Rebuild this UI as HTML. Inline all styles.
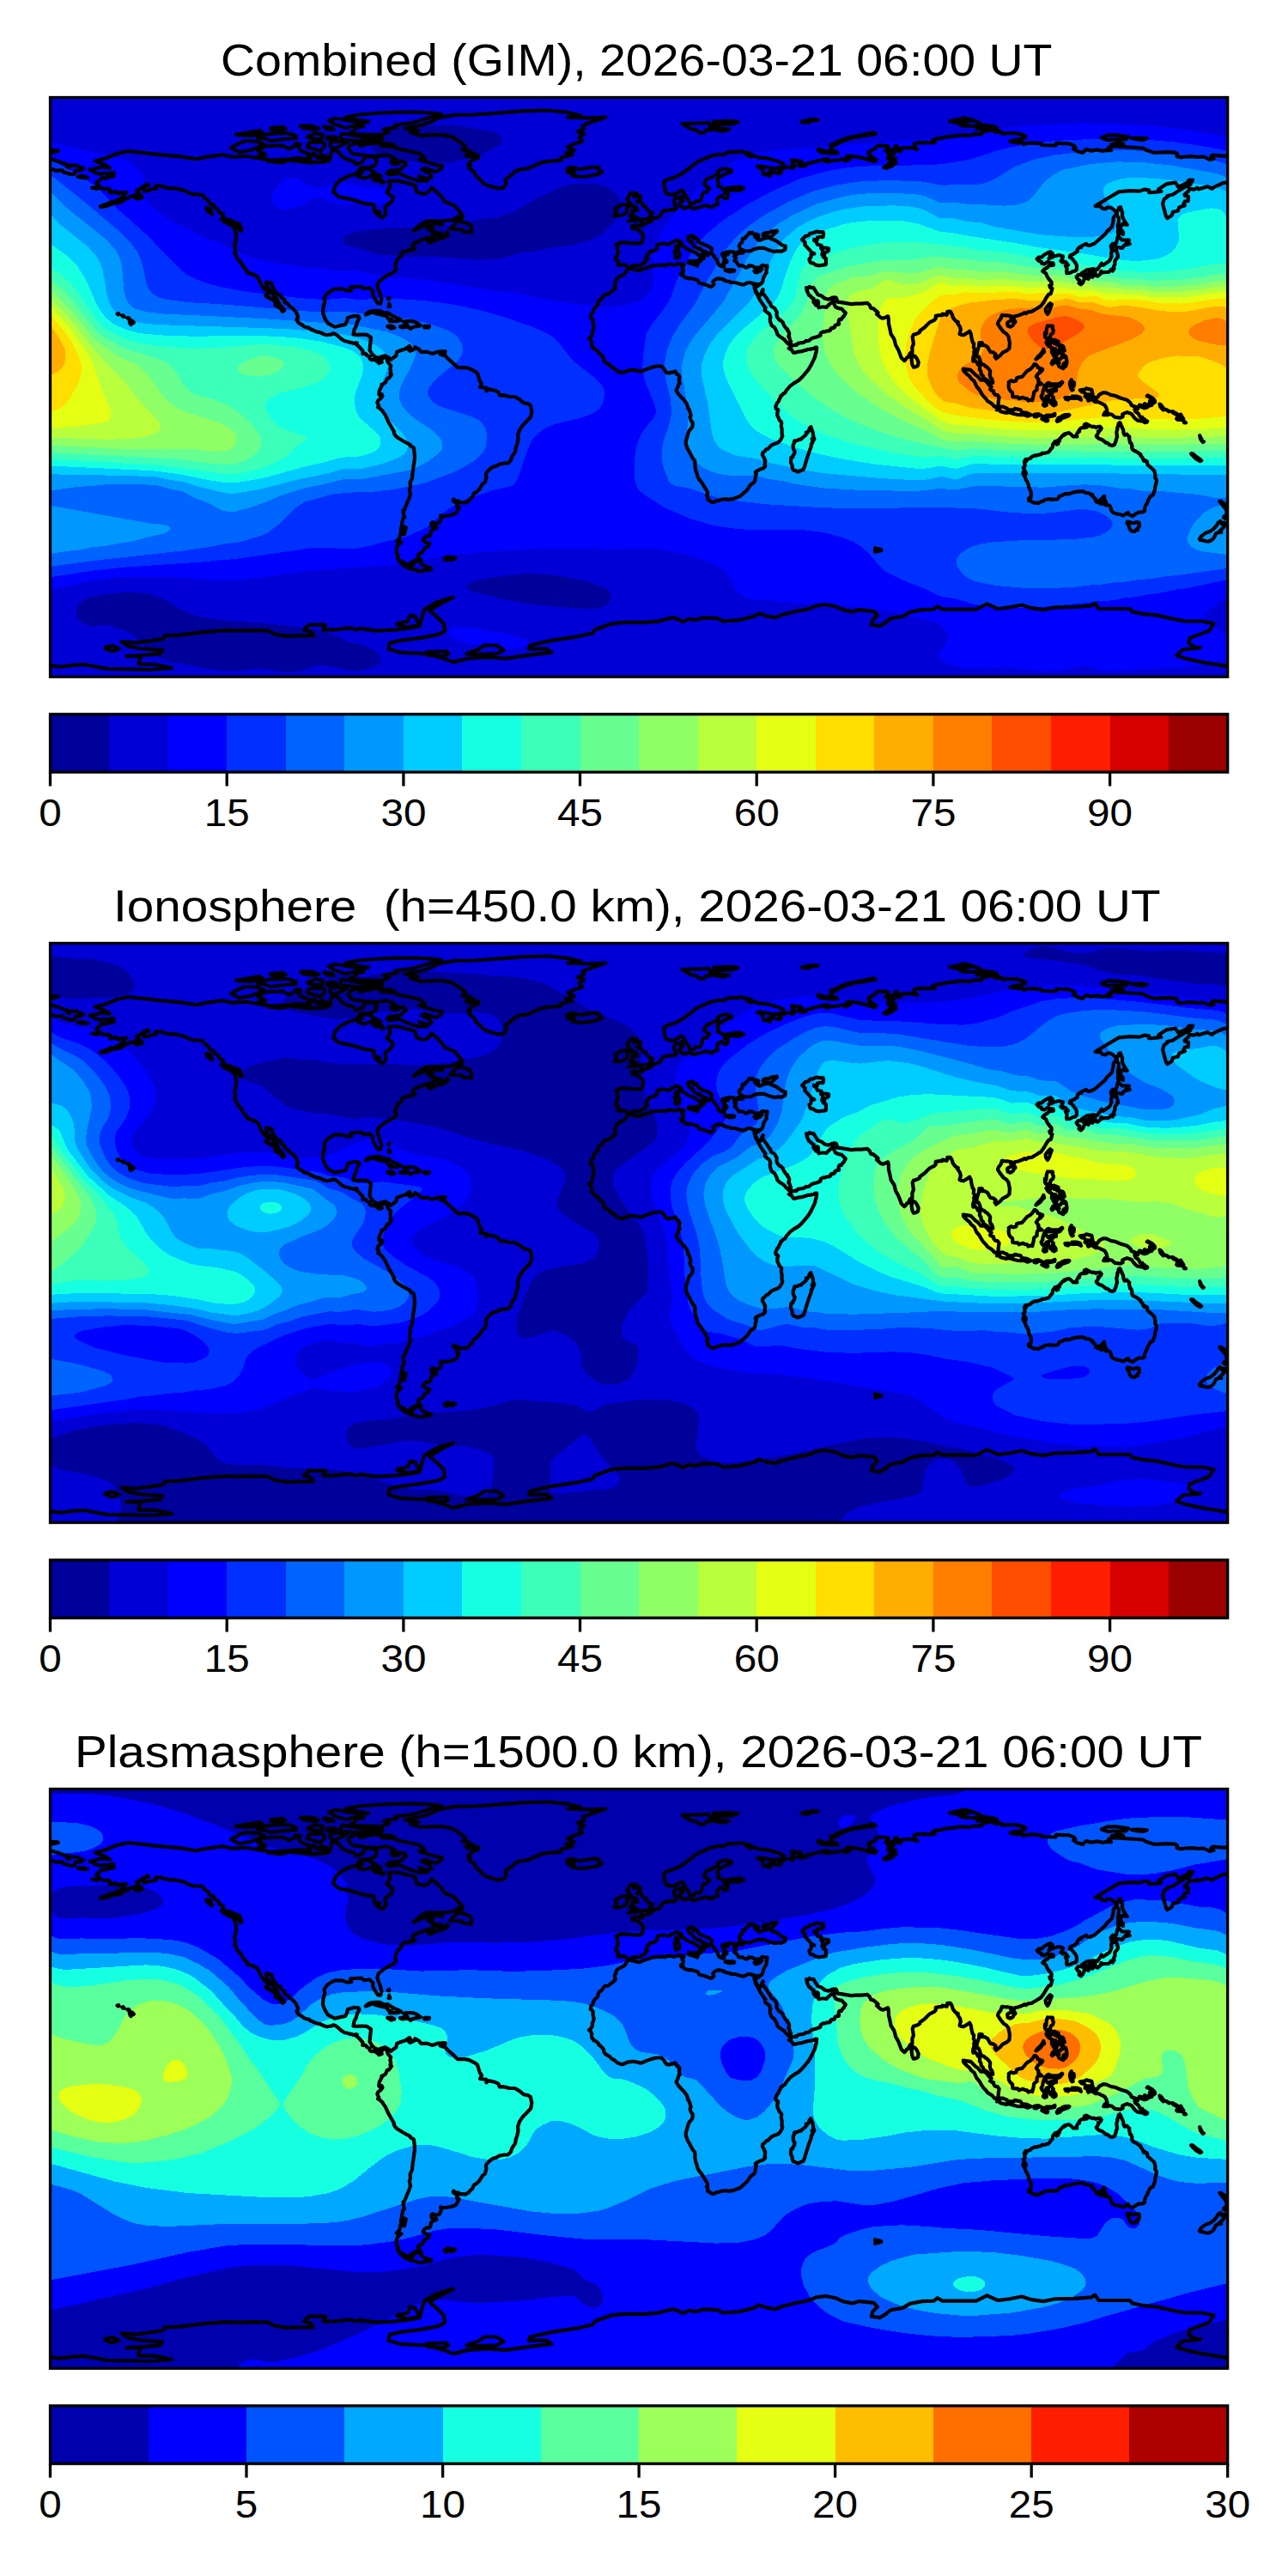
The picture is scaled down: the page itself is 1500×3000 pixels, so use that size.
<!DOCTYPE html><html><head><meta charset="utf-8"><title>TEC maps</title><style>html,body{margin:0;padding:0;background:#fff}svg{display:block}text{font-family:"Liberation Sans",sans-serif;fill:#000}</style></head><body>
<svg width="1500" height="3000" viewBox="0 0 1500 3000">
<defs><path id="coast" d="M46.3 84.4 59.9 81 69.5 82.1 63.7 78.3 52.1 74 65.7 70.5 77.2 65.5 90.8 62.5 108.1 64.4 127.5 66.7 150.6 68.6 169.9 71.7 181.5 69.4 200.9 66.7 212.4 69.4 227.9 68.2 251.1 72.1 254.9 74.4 270.4 75.6 278.1 73.2 289.7 74.4 301.3 75.9 316.7 75.2 324.4 74 326.4 68.2 328.3 60.5 336 63.6 339.9 69 345.7 72.1 353.4 74 355.3 77.9 363.1 75.9 366.9 69.4 376.6 69 380.5 73.2 378.5 79 370.8 81.7 361.1 82.1 357.3 88.7 347.6 91.4 338 96.4 332.2 102.2 329.5 109.9 336 115.7 345.7 117.6 355.3 119.9 366.9 123.7 376.6 124.5 377.8 133 382.4 137.6 387 139.9 390.9 135.7 390.1 127.2 397.8 121.4 399.4 116.4 392 110.6 395.9 104.1 394 97.1 405.6 97.1 417.1 100.2 424.9 102.2 426.8 109.9 434.5 112.6 440.3 110.3 444.2 104.9 450 109.9 455.8 115.7 459.6 121.4 471.2 126.1 475.1 131.1 479.7 136.1 475.1 139.2 467.4 143 455.8 143.8 438.4 143.8 430.7 148.4 422.9 155 428.7 152.3 438.4 148 446.1 148.4 445 152.3 439.2 152.3 444.2 155.4 446.1 159.2 453.8 160.8 459.6 161.1 462.3 157.3 463.5 160 458.5 163.1 450 165.4 442.3 169.2 439.6 166.5 446.1 162.7 439.2 163.5 435.3 165 428.7 167.7 423.7 169.6 421.8 173.5 424.9 176.2 419.1 177.7 411.4 179.6 409.4 181.6 408.3 185 404.8 187.7 402.5 192.8 401.7 195.1 402.9 200.5 399.8 203.5 394 206.6 389.3 209.3 382.4 214.7 380.8 219.7 383.9 228.2 385.9 235.2 384.7 240.2 381.6 239.8 379.3 236.3 375.8 230.5 375.8 225.5 371.6 221.7 365.8 222.8 361.9 220.1 355.3 220.5 349.6 220.9 350.7 224.7 345.7 225.1 340.7 223.2 332.9 222.8 329.1 224 322.5 228.2 319 233.2 319.8 237.9 317.9 244.8 317.5 251 319.8 257.1 323.3 262.9 328.3 265.6 331.4 267.2 338 265.6 343.8 264.5 345.7 260.2 346.5 256.4 353.4 254.4 359.2 254.8 360 257.1 357.3 262.1 356.1 266.8 354.2 269.9 353 276 357.3 276.4 363.1 276 368.9 276.4 373.5 279.5 372.7 287.2 372 294.1 374.7 298.8 377.8 301.8 381.6 303.4 386.2 301.8 390.1 300.7 394.7 303.4 396.7 305.3 398.6 303.8 402.9 300.7 403.6 296.4 408.3 294.5 413.3 293 418.3 289.5 419.9 291.8 417.5 294.1 419.1 295.3 424.1 293 424.9 290.7 429.5 293.4 431.8 296.4 439.6 296.4 444.6 298.4 451.9 296.1 456.2 296.1 454.2 299.1 460.4 301.1 463.1 304.2 469.3 309.6 474.3 314.6 482.8 314.6 487.4 315.3 494.4 318.8 497.5 321.1 500.2 330 502.5 333.5 500.6 337.3 507.5 338.1 507.9 341.9 510.6 339.6 517.6 341.2 521.8 343.1 523.4 346.9 527.6 346.6 535 348.5 541.1 348.5 546.5 351.6 551.6 355.8 556.2 356.6 559.3 358.5 560.8 365.5 559.7 372 554.3 377.8 550.4 381.6 546.5 387.4 544.6 393.2 545 397.8 543.8 403.6 542.3 407.9 541.5 412.9 537.7 418.3 536.5 422.5 533 426 528.8 426 523 427.1 519.9 429.1 515.6 430.2 511.4 433.3 507.9 437.2 507.5 439.9 507.9 442.2 506.4 448 503.7 449.9 499.4 456.8 495.9 459.9 493.2 461.4 491.7 465.3 489 467.6 487.4 469.9 483.2 472.2 480.1 471.5 478.2 471.9 474.7 469.9 472 470.3 469.7 468 469.3 469.9 474.3 473.4 473.5 476.1 476.2 477.6 472.4 484.6 466.6 486.5 458.9 487.7 454.6 486.9 455.4 489.2 454.6 492.3 453.1 495.4 448.8 496.1 445.3 494.6 443.8 495.8 444.2 499.6 446.9 500.8 448.8 499.2 450 501.5 446.5 502.7 443.4 505 443 508.9 441.9 510.8 438.4 510.8 435.3 513.1 434.1 515.8 438 518.5 441.9 519.3 440.3 522.7 435.7 525.1 433.4 529.7 429.9 531.2 428.4 532.8 429.5 537 432.2 538.9 430.3 538.9 426.8 538.2 421 540.9 417.5 544.7 421 544.7 414.8 543.6 410.6 540.9 405.9 538.9 404.4 536.2 405.6 533.9 403.6 531.6 403.2 525.1 404.8 521.2 409 518.1 403.2 517 406.7 513.9 407.9 507.3 412.5 508.9 414.4 500.8 411.7 499.6 410.6 504.6 408.3 503.8 409.4 498.5 410.6 491.1 412.5 488.8 411.4 485 411 480.7 412.5 480.3 414.8 474.2 417.5 468 419.5 462.2 418.3 456.4 419.5 453.3 419.1 448.7 421.4 443.7 422.2 436.4 423.3 428.3 424.5 419.8 424.1 413.6 423.3 407.9 419.5 405.9 419.1 404.4 411.7 400.5 404.8 396.3 401.7 393.6 400.2 390.5 400.5 389.4 397.5 384.3 393.6 377.4 390.1 369.7 388.6 367.8 387 365.1 384.3 362.4 381.6 360.8 382.8 359.3 380.8 355.4 382 352.7 385.1 350.4 387 347.7 386.2 345.8 384.7 347.7 382.8 345.8 383.2 341.6 384.7 338.5 386.2 335.8 385.9 334.2 388.2 333.5 390.5 331.9 392.4 327.3 394.4 326.9 397.5 322.7 395.9 321.5 396.7 319.2 395.9 315.7 396.7 312.3 394.4 309.6 393.2 308.4 392.4 306.1 393.2 305.3 392.4 304.9 391.7 303.8 389.7 302.6 387.8 303 387 304.2 385.5 305.3 384.7 305.3 384.3 306.1 386.2 308.4 385.1 308.8 382.8 309.6 382 307.2 380.5 307.6 379.7 306.1 375.4 305.3 374.7 305.7 372.7 304.9 372 303.8 372.3 302.2 368.5 300.3 368.1 299.1 366.9 298.4 363.8 298.4 364.2 295.7 363.5 294.5 361.1 291.8 358.4 289.1 356.5 287.6 357.3 286 356.1 285.7 353.4 286.4 350.3 285.3 348.4 285.3 347.2 284.5 343 283.7 339.1 281.4 334.5 277.2 332.2 275.6 329.5 274.9 327.2 276 322.1 276.8 319.4 276 313.2 273.3 310.2 272.9 305.9 271 302.4 269.5 301.7 268.3 299.3 267.9 295.5 266.8 293.9 265.2 289.7 262.9 287.8 260.6 287 258.7 288.1 258.3 287.8 257.1 288.5 256 288.5 254.8 287.4 252.9 287 251.3 285.8 249.4 282.3 245.6 278.5 242.9 276.6 240.2 273.1 238.6 272.7 237.9 273.1 235.5 271.1 234.4 268.8 232.5 268.1 229.8 265.7 229.8 263.4 227.4 261.9 225.5 261.5 224.4 259.6 221.7 258 218.6 258.4 217 255.3 215.5 254.2 215.9 251.8 214.7 251.4 216.3 251.8 218.2 252.2 220.9 253.8 222.4 256.5 225.1 257.2 226.3 257.6 226.3 258.4 227.8 258.8 227.8 259.6 230.1 260.7 231.3 261.9 232.5 264.2 234.4 265.4 238.2 266.5 239.8 267.7 241.7 267.7 243.6 269.6 243.6 271.1 245.6 272.7 247.1 272.7 247.9 270.8 249.4 270.4 249.4 269.2 247.1 266.9 244.8 263.8 242.9 261.9 242.1 262.3 239 261.5 237.1 259.6 235.9 256.9 234 256.5 234.8 255.7 233.6 253 232.8 250.7 230.5 251.1 230.1 252.6 230.5 254.2 229 254.2 227.1 251.4 224.4 249.1 223.2 247.6 220.9 246 218.6 244.5 215.5 243 212 242.2 210.1 239.9 207.8 237.9 207.4 237.5 206.2 235.2 205.9 234.1 205.1 230.2 204.7 229.4 203.9 229 201.6 225.2 197.8 222.1 192.4 222.1 191.6 220.2 190.4 217.5 187 216.7 183.9 214.8 182 215.5 178.9 215.5 175.4 214.4 172.3 215.9 168.8 216.3 165.4 216.7 161.9 215.9 156.5 214.8 153.4 213.6 151.5 214 150.7 219.8 152.3 221.7 155.7 222.9 154.6 222.1 151.5 220.9 148.4 220.2 147.3 212.8 144.6 210.1 143 203.2 141.5 200.9 138 201.2 135.7 196.6 133.8 195.8 130.7 191.2 128 191.2 126.1 188.9 124.5 185.4 123.4 184.2 119.9 179.6 116.8 177.3 113.3 173.8 113 167.6 113 163 111.8 154.9 107.9 151.4 107.2 144.5 105.6 139.4 106 131.7 104.1 127.1 102.5 122.8 103.3 123.6 106 121.3 106.4 117 107.2 113.6 108.3 109.3 109.1 108.5 107.2 110.5 103.3 114.7 102.2 113.6 101 108.5 103.3 105.8 105.6 100.4 108.3 103.1 110.3 99.7 113.3 95.4 114.9 91.5 116 90.4 117.6 84.6 119.5 83.4 121.4 78.8 123 76.1 123 72.6 123.7 68.8 125.3 65.3 126.4 58.7 127.6 58.3 126.8 62.6 125.3 66 124.1 70.3 121.8 74.9 121.4 76.9 119.9 82.3 117.6 83 116.8 86.1 115.3 86.5 112.6 88.8 110.3 84.2 111.4 83 110.6 80.7 112.2 78.4 110.3 77.2 111.4 75.7 109.5 71.8 111 69.5 111 69.1 108.7 69.9 107.6 67.6 106 62.6 106.8 59.1 104.9 56.8 104.1 56.4 101.8 53.7 100.2 55.2 97.9 58.3 96 59.5 94.1 62.6 93.7 65.3 94.1 68.4 92.5 71.5 92.5 74.2 91.4 73.4 89.8 71.5 89.1 74.2 87.5 71.8 87.5 67.6 88.3 66.4 89.4 63.7 88.3 58.3 89.1 52.5 87.9 51 86.4 46 84 46.3 84.4M413.3 35.9 432.6 32 444.2 28.1 451.9 23.9 471.2 20.4 494.4 20 521.4 18.1 548.5 15.8 579.4 15 602.5 17.3 618 21.2 602.5 23.1 629.6 23.9 647 23.1 629.6 28.9 619.9 32.8 621.9 36.6 614.1 39.7 621.9 42.4 616.1 46.3 619.9 50.9 610.3 54 602.5 57.8 610.3 61.7 600.6 64.4 608.3 66.7 594.8 70.2 594.8 73.2 575.5 74.8 565.9 78.3 556.2 82.9 546.5 84 540.8 86.7 538 89.8 529.9 95.6 531.1 100.2 528 105.2 521.4 106 509.8 102.5 505.2 100.6 500.2 95.2 495.9 91.7 493.6 86.7 487.8 82.5 489.4 79.4 486.7 78.3 490.5 73.6 498.3 70.5 499 67.8 485.1 69 484 66.3 494.4 66.3 486.7 61.7 479.7 60.9 484 57.4 479 53.2 473.2 49.3 468.9 46.3 458.5 43.9 450 43.6 430.7 44.3 419.1 40.5 428.7 38.5 413.3 35.9M607.6 81.3 616.8 83.7 625.7 82.1 633.4 81 639.2 81.7 638.9 84.8 642.7 86.7 637.7 89.4 626.5 91.7 618 92.5 607.6 91 610.3 89.1 602.5 87.1 610.3 85.2 601.4 84.4 604.1 81.7 607.6 81.3M386.2 53.2 397.8 56.7 407.5 60.5 419.1 62.8 430.7 65.5 436.5 70.5 429.5 72.5 438.4 75.2 448 78.3 456.5 79.8 455 83.3 448.4 86.7 443.8 84.8 436.5 82.1 432.6 84 441.5 88.3 444.2 92.9 439.2 94.8 429.5 91.7 439.2 97.1 429.1 97.1 421 94.8 416.4 92.9 406.3 88.3 395.1 89.8 392 88.3 394.4 85.6 408.3 83.7 409.8 81.7 414.8 77.9 412.1 74.8 405.6 74 398.2 71.7 400.9 70.9 396.7 68.2 390.5 66.7 381.2 68.6 367.3 67.5 359.2 66.3 352.6 65.9 349.6 62.8 346.9 59 349.9 55.5 353.8 54 363.8 52.8 360.8 56.7 367.3 54.7 377.4 53.2 386.2 53.2M241.4 61.7 251.1 56.7 270.4 55.9 278.1 59.8 287.8 54.7 291.6 61.7 305.1 67.5 299.3 69.4 303.2 72.5 289.7 70.5 282 71.3 274.2 72.1 256.9 73.2 247.2 70.5 242.6 67.5 251.1 66.3 241.4 61.7M210.5 58.6 220.2 53.2 227.9 50.5 241.4 51.3 249.1 54.4 233.7 61.3 220.2 63.6 210.5 58.6M347.6 42.4 366.9 43.2 386.2 43.6 394.7 40.1 388.2 37 403.6 34.7 401.7 32 421 29.7 436.5 25.1 455.8 19.7 444.2 18.1 424.9 17 397.8 17.3 378.5 18.5 359.2 20 343.8 23.1 359.2 26.6 370.8 28.1 359.2 30.5 365 33.5 355.3 35.5 355.3 37.8 347.6 42.4M332.2 24.3 347.6 27 355.3 28.1 359.2 32 343.8 35.5 332.2 31.6 324.4 27 332.2 24.3M339.9 42 363.1 45.9 386.2 46.6 387 48.6 378.5 50.1 355.3 50.5 339.9 49 338 45.1 339.9 42M243.3 43.6 262.6 42 276.2 41.6 285.8 44.3 286.6 47.4 272.3 48.6 256.1 50.5 251.1 48.2 241.4 47 243.3 43.6M309 41.6 317.9 43.2 316.7 48.2 305.9 48.2 299.3 45.9 309 41.6M301.3 52.8 312.9 52 319.4 53.2 319.8 56.7 314.8 62.5 309 60.5 299.3 57.8 301.3 52.8M326.4 51.3 338.7 51.3 345.7 52.8 338 56.3 331 59.8 326 56.7 326.4 51.3M316 66.7 322.5 69 326 71.7 317.9 71.3 309.8 69.8 316 66.7M216.3 43.2 227.9 41.2 243.3 38.5 247.2 40.9 235.6 44.3 220.9 43.9 216.3 43.2M359.2 85.2 366.9 82.9 372 83.7 380.5 89.1 385.1 91.7 374.7 90.2 370.8 92.5 365 94.1 358.4 92.1 363.1 87.5 359.2 85.2M465.8 153 471.2 147.6 475.9 139.6 480.5 138.8 476.2 144.6 480.9 144.9 488.6 147.6 490.5 151.5 490.5 157.3 486.7 156.5 481.7 156.5 479 153.8 465.8 153M199.3 141.5 208.6 143 216.3 147.6 218.2 150.7 210.5 148.8 202.8 144.9 199.3 141.5M181.5 128.8 186.6 129.1 188.5 136.1 183.5 132.6 181.5 128.8M97.7 116 106.2 114.1 107.4 116.4 101.2 118.3 97.7 116M32.1 92.1 38.6 91.7 43.6 93.3 36.7 93.3 32.1 92.1M48.7 105.2 54.1 104.9 55.2 106.4 48.7 105.2M367.3 252.9 370.8 249.8 375.4 248.6 380.8 248.3 383.9 248.3 389 251 392.8 250.6 397.8 253.7 400.9 255.6 403.2 256.4 408.7 259.1 403.2 260.6 395.1 260.6 397.5 258.7 393.6 257.5 391.3 254 389 254 379.3 251.7 375.4 249.8 371.2 251.7 367.3 252.9M407.5 266.8 411.7 266 416 265.2 414.1 263.7 411.7 261.4 414.1 260.6 418.7 260.6 421.8 260.6 425.3 261.8 428 262.9 429.9 264.5 431.4 265.6 428 266.4 422.9 267.2 419.5 269.5 418.3 267.9 415.6 267.2 409.8 267.9 407.5 266.8M392.8 266.4 397.1 266 400.9 267.9 397.1 269.1 392.8 266.4M435.7 266.4 441.5 266.4 440.7 267.9 435.7 267.9 435.7 266.4M456.2 295.7 460 295.7 459.6 298.4 456.2 298.4 456.2 295.7M393.2 234.4 394.7 234.8 394.7 233.2M394 243.6 395.9 243.6 394.7 240.2M458.9 537 463.5 534.7 467 535.8 472 535.8 469.3 538.5 464.3 537.8 460.8 538.9 458.9 537M430.3 540.1 431.8 542 433.8 544.7 438.8 547 443.8 548.2 442.3 550.1 436.8 550.1 432.2 551.7 428 551.3 424.9 549.7 421 549.3 416 547.4 412.1 545.1 407.1 540.9 410.2 541.6 415.6 544.3 420.6 545.9 422.6 543.9 423.7 541.2 427.6 539.7 430.3 540.1M672.5 199.3 675.2 199.3 681.3 200.8 686.8 201.6 690.6 199.7 697.2 197.4 701 196.2 707.6 195.4 713.8 195.1 715.7 195.8 719.6 194.3 723.4 194.3 725 195.1 727.7 195.1 731.9 193.5 734.6 193.9 734.6 195.8 737.7 194.3 738.1 195.1 736.2 197 736.2 198.9 737.4 199.7 737 203.2 734.3 205.1 735 207 737.4 207 738.1 208.9 739.7 209.7 744.3 210.9 745.8 210.5 748.9 211.3 754 212.8 755.9 216.3 759.4 217 764.8 218.6 769 220.5 771 219.7 772.9 217.8 771.7 214.7 772.9 213.2 776 211.3 778.3 210.9 783.7 211.6 784.9 213.2 786.4 213.2 787.9 214 791.4 214.3 792.6 215.5 797.6 215.5 801.5 216.7 805.3 217.8 806.9 218.2 810 217 811.5 215.9 815 215.5 817.7 216.3 818.8 217.8 819.6 216.7 822.7 217.8 825.8 217.8 827.7 217 827.7 217 820.8 221.7 820.4 222 821.6 226.7 823.9 230.5 827 236.7 828.5 238.6 829.7 240.9 833.1 245.2 832.4 245.6 832.4 248.3 837 251.7 837.8 252.5 838.9 256.4 838.2 257.1 838.5 261 840.1 265.6 843.6 267.9 845.9 272.5 847 276 849 277.9 854.4 281.4 856.3 283.7 859.8 287.2 861.7 288.4 862.5 289.5 862.5 291.4 860.2 292.2 861.7 293 863.3 293.8 865.6 297.2 867.5 297.2 871.4 296.1 875.2 295.7 878.7 294.5 880.6 294.1 882.2 293.4 884.1 293.4 889.5 292.2 891.1 291.1 892.6 291.1 892.6 292.2 892.2 294.1 892.2 296.4 891.5 297.6 890.7 301.8 888.8 306.1 886.4 311.1 883 316.9 879.5 321.1 875.2 326.1 871.4 329.6 865.6 333.1 861.7 336.2 857.5 340.8 855.9 343.9 853.2 345.4 852.1 346.9 850.9 347.3 850.1 350 849 351.6 848.2 353.9 846.7 355.4 844.7 360.1 845.1 362.4 847.4 363.5 847.8 364.7 846.7 367 847 368.2 846.7 370.1 847.8 372.4 849.4 376.2 850.9 377 851.7 378.9 851.3 382.8 852.1 385.9 852.1 392.1 852.8 394 851.7 396.7 850.1 399.4 847.8 401.7 844 403.2 839.7 405.2 835.5 409.4 833.9 409.8 831.2 412.9 829.7 413.6 829.3 416.3 831.2 419.4 832 421.4 832 422.5 832.8 422.5 832.4 426.4 832 427.9 832.8 428.7 832.4 430.2 830.4 431.8 827.3 432.9 822.7 435.2 821.2 436.4 821.6 437.9 822.3 438.3 821.9 440.2 821.2 443.3 820.8 446.4 819.6 448.3 816.9 450.3 816.1 450.6 814.6 452.6 813.4 454.5 811.5 457.2 806.9 461.4 804.2 463.8 801.5 465.3 797.2 466.8 795.3 467.2 794.9 468 792.6 467.6 790.7 468.4 786.4 467.6 784.1 468 782.5 468 778.3 469.5 775.2 469.9 772.9 471.5 771 471.5 769.4 470.3 768.3 469.9 766.3 468.4 766.3 468.8 765.5 468 765.9 465.7 764.4 463 765.5 462.2 765.5 459.5 763.2 455.7 761.3 452.6 761.3 452.6 758.2 447.6 755.5 444.5 754 441.8 753.2 437.9 752 435.2 750.9 429.4 750.9 424.8 750.5 422.5 748.9 421 747 417.9 744.7 413.3 742.4 409.4 740.4 404 740.1 401.7 740.8 398.2 742 394.8 742.4 392.8 743.5 389.4 744.3 387.8 746.6 385.5 747.8 383.6 748.2 380.9 748.2 378.6 747 377.4 745.8 375.1 745.1 372.8 745.1 371.6 746.2 370.5 745.1 366.6 744.3 363.9 742.4 361.6 742.8 360.8 742.4 359.7 741.2 356.6 738.1 352.3 734.3 348.5 731.6 345.4 729.2 341.6 729.2 340.4 730 339.2 731.2 336.2 731.9 333.5 733.1 333.1 732.3 328.4 733.1 325.4 731.6 323 729.6 322.3 728.9 320.4 728.1 320 728.1 318.8 724.2 320.4 722.7 320 721.1 321.1 718 320.7 716.1 318.4 714.6 315.7 711.9 313 709.2 313 705.7 313 702.6 313.8 699.5 314.6 693.3 316.9 691 318 687.5 319.2 684 318 682.5 318 679.8 317.3 677.5 317.3 672.8 318 670.1 319.2 666.3 320.7 665.5 320.4 664.5 320.4 660.5 318.8 657 315.7 653.5 313.8 651.2 311.1 650.1 310.7 647.4 309.2 645.4 307.2 644.7 305.7 644.3 303 642.3 300.7 640.8 299.1 638.9 298 638.5 296.1 636.9 294.9 634.6 293 633.1 293 632.3 291.1 631.1 290.3 630.7 289.5 630.4 286.4 630.7 284.9 629.2 281.8 627.3 280.6 628.8 279.9 630.7 277.2 631.5 275.2 631.1 272.9 632.3 271 633.1 267.5 632.3 263.7 631.9 261.8 632.3 259.8 631.5 257.9 629.2 256.4 629.6 254.8 629.6 252.9 631.1 251.7 632.3 249.8 632.3 248.6 633.5 245.9 635.8 243.3 636.9 242.9 638.1 240.6 638.1 238.6 639.6 235.9 641.9 234.8 644.7 230.9 644.7 230.5 646.6 229.4 650.1 229 653.1 226.3 655.1 225.1 658.2 222 657.4 217 658.9 214 659.3 211.6 661.6 209.3 665.5 207.4 668.6 205.9 671.3 202 672.5 199.3M885.7 383.6 888 389.7 888.8 394.4 889.1 395.9 889.9 397.8 889.1 399 888 396.7 887.2 397.8 888 400.9 887.6 402.5 886.4 403.2 886.1 406.7 884.5 410.9 882.6 416.3 880.3 423.7 878.7 429.1 877.2 433.3 874.1 434.5 870.6 436 868.3 434.8 865.2 433.7 864.4 431.8 864 428.3 862.5 425.2 862.5 422.5 862.9 419.4 864.8 419 864.8 417.5 866.7 414.8 867.1 412.1 866 410.6 865.2 407.9 865.2 404.4 866.4 402.5 866.7 399.8 868.7 399.8 871 399 872.5 398.2 874.1 398.2 876.4 395.9 879.5 393.6 880.6 391.7 880.3 390.1 881.8 390.5 883.7 387.8 884.1 385.5 885.7 383.6M291.6 33.2 305.1 33.2 312.9 36.2 307.1 37.4 295.5 35.9 291.6 33.2M318.7 33.9 328.3 35.1 330.2 37.4 322.5 37.4 318.7 33.9M256.9 35.5 270.4 34.3 274.2 36.6 266.5 38.9 256.9 37.4 256.9 35.5M322.5 45.9 332.2 45.9 334.1 48.2 330.2 49.7 322.5 48.2 322.5 45.9M384.3 53.6 395.9 54 400.9 55.9 395.9 57.1 386.2 56.7 384.3 53.6M396.7 75.2 403.6 74.8 406.3 76.7 399.8 77.9 396.7 75.2M375.8 94.8 382.4 94.4 387 96.8 379.3 97.1 375.8 94.8M385.5 97.9 388.6 98.7 387 99.8 385.5 97.9M378.5 132.2 382.4 132.6 383.9 133.8 380.5 133.8 378.5 132.2M446.1 144.9 453.8 146.1 456.9 148 450 147.3 446.1 144.9M447.3 156.5 451.9 158.1 455.8 158.1 453.8 160 448 158.8 447.3 156.5M285.8 53.6 291.6 54.4 287.8 56.3 285.8 53.6M307.1 65.1 309 66.7 305.1 67.1 307.1 65.1M827.7 217 828.9 215.9 830.1 213.2 830.4 210.9 830.8 209.7 832.4 206.6 834.3 203.9 833.9 200.8 834.7 199.3 835.1 196.2 832.8 196.2 829.3 195.4 826.6 197.8 820.8 198.1 817.7 196.2 813.4 195.8 812.7 197.4 810 198.1 806.1 195.8 801.9 195.8 799.5 192 796.8 190.1 798.8 187 796.4 185 800.7 181.6 806.5 181.2 808 178.5 815.4 178.9 820 176.6 824.6 175.4 831.2 175.4 837.8 178.1 843.2 179.6 847.8 178.9 851.3 179.3 855.9 177.3 856.3 173.1 855.5 173.1 850.9 171.2 849.8 170 844.7 166.5 840.1 165 837 163.1 839.7 162.3 842.8 159.2 846.3 156.1 846.3 155 842.8 155.7 839.7 156.1 837.4 157.3 833.5 157.7 830.4 158.8 830.4 161.1 832.4 162.3 836.2 161.9 835.5 163.5 831.2 164.2 826.2 166.2 823.9 165.4 824.6 163.8 820.8 162.7 821.2 161.9 825 160.4 823.9 159.6 817.7 158.8 817.7 157.3 813.8 157.7 812.7 160 809.6 162.7 809.6 163.8 807.6 164.6 806.5 164.2 805.7 168.8 803.4 170.4 802.2 173.1 803.4 175.4 803.8 176.9 807.3 178.1 806.5 178.9 801.9 179.3 800.3 180.4 797.2 182.3 795.7 180.8 796.1 180 793.4 179.6 791.4 179.6 786.8 180.4 789.5 182.7 787.6 183.1 785.2 183.3 783.3 181.2 782.5 182 783.3 184.3 785.6 186.2 784.1 187 786 188.9 787.9 190.1 787.9 192 784.5 191.2 785.6 193.1 783.3 193.5 784.9 197 782.2 197 779.1 195.4 777.5 192.4 776.7 189.7 775.2 187.7 773.3 185.8 773.3 184.7 772.5 184.3 772.4 183.5 770.2 182 769.8 180.4 770.2 177.7 770.6 176.6 770.2 175.8 769.4 175.6 768.3 174.2 766.7 173.5 762.8 171.9 760.5 170.8 757 169.6 754 166.9 754.7 166.5 752.8 165 752.8 163.5 750.5 163.1 749.1 164.6 748.2 163.5 748.2 161.9 748.2 161.1 745.8 161.1 742.8 162.3 743.1 164.2 742.8 165.4 743.9 167.3 747.4 169.2 749.3 172.3 753.6 175.6 756.7 175.6 757.8 176.6 756.7 177.3 762.8 179.6 766.3 181.6 766.7 182.3 765.9 183.9 763.6 182 760.5 181.6 758.6 183.9 761.7 185.4 761.3 187.4 759.4 187.7 757.4 190.9 755.9 191.2 755.9 190.1 756.7 187.7 757.4 187.1 758.2 185.4 754.7 183.1 753.2 182.3 752 180.8 749.7 180 747.8 178.5 745.1 178.1 742 176.6 738.5 173.9 735.8 171.9 734.6 168.1 732.7 167.7 729.6 166.2 727.7 166.9 725.8 168.5 723.8 168.8 720.4 171.2 713 170 707.2 171.2 706.8 173.5 706.8 175.8 703.4 178.5 698.3 179.3 698 180.4 695.6 182.7 694.1 185.8 695.6 188.1 693.3 189.7 692.5 192.4 689.8 193.1 687.1 195.8 682.1 195.8 678.3 195.8 675.9 197.4 674.4 198.9 672.5 198.5 671.3 197 670.1 195.1 666.3 194.3 664.7 195.4 662.8 194.7 660.9 195.1 661.6 192 661.3 189.7 659.3 189.3 658.6 188.1 658.9 185.4 660.5 183.9 660.5 182.3 661.3 180 661.3 178.5 660.5 177.3 660.5 175.8 660.5 173.1 658.9 171.5 664.4 168.8 669 169.2 674.4 169.2 678.6 170 681.7 169.6 687.9 170 689.8 167.7 690.6 160 686.8 155.7 683.8 153.8 677.9 152.5 677.5 149.6 682.5 148.8 689.1 150 687.9 145.3 691.4 147.3 700.3 144.2 701.4 141.1 704.9 140.3 708 139.6 709.9 138.4 713.4 132.6 718.8 131.1 721.9 131.1 722.7 130.3 725.8 130.3 726.5 131.1 729.2 129.1 728.5 127.6 728.1 125.3 726.5 123.4 726.5 119.5 727.3 118.3 728.1 117.2 731.6 116.8 733.1 116 736.2 114.9 735.8 116.8 735 118 735.4 119.1 737.4 119.5 736.6 121 735.4 120.7 732.3 123.4 733.5 125.4 733.5 126.8 737.4 127.6 737.4 129.1 741.4 128.4 743.5 127.2 747.8 128.8 749.7 129.9 752.4 128.8 758.6 127.2 763.2 125.7 767.1 126.4 767.5 127.6 771.3 127.6 772.1 125.7 777.5 124.5 776.7 121.4 776.7 118.3 778.7 116 782.2 114.5 785.2 117.6 788.3 117.6 789.1 114.5 789.5 112.2 788.3 112.6 785.6 111.4 785.2 109.1 790.3 107.9 795.3 107.6 799.2 108.3 803.3 107.9 807.6 106 803.8 104.1 796.8 104.5 789.9 105.6 783.7 106.8 781.4 104.5 777.5 103.3 778.3 99.5 776.7 96 778.3 93.7 781.8 91.4 790.7 87.1 793.4 86.4 793 84.8 787.6 82.9 781 84 777.1 86.7 777.9 89.1 771.7 92.1 764 95.6 761.3 101 764 103.7 767.9 105.6 764.4 110.1 760.1 111 758.6 117.6 756.7 121 752 120.7 749.7 123.7 745.1 123.7 743.9 120.3 740.8 116 737.7 110.3 735.4 107.9 727.7 112.6 722.3 113.3 717.3 111.4 715.7 107.2 714.6 98.4 718 96 728.5 92.5 735.8 88.7 743.1 83.3 752.4 75.9 758.6 72.9 769.4 68.2 777.9 66.3 784.1 66.7 789.9 63.6 797.2 63.6 804.2 62.8 816.1 65.5 811.1 66.7 815.4 69 819.2 67.8 825.8 70.2 836.2 70.9 850.9 75.6 854 77.1 854 79.8 849.8 81.7 843.6 82.9 826.2 79.8 823.5 80.6 829.7 83.3 830.1 85.2 830.1 89.1 835.1 90.2 838.2 91.4 838.5 89.4 836.2 87.5 838.9 86.4 848.2 88.7 851.3 87.5 849 84.8 857.9 81 861.3 81.3 864.8 82.5 867.1 79.8 864 77.5 866 75.4 863.3 72.9 874.1 74 876 76.3 871.4 76.7 871.4 79 874.1 80.2 880.3 79.4 881 77.1 889.1 75.2 902.7 71.7 905.8 72.1 901.9 74.4 906.5 74.8 909.2 73.6 916.6 73.2 922.4 71.7 926.6 74 931.2 71.7 927 69.4 929.3 67.8 940.5 69.4 945.9 70.5 959.8 74.8 962.5 72.9 958.7 70.9 958.3 69.8 953.7 69.4 955.2 67.8 952.9 64.8 952.9 63.6 959.8 60.1 962.5 56.7 965.2 55.9 975.7 56.7 976.4 59 972.6 62.1 975.3 63.2 976.4 65.9 975.7 71.3 979.9 73.6 978 76.3 970.6 81.7 974.9 82.1 976.4 81 980.7 79.8 981.8 77.9 985.3 75.9 983 74 984.6 71.3 980.3 70.9 979.5 69 982.6 65.1 977.6 62.1 984.6 59.4 983.8 56.7 985.7 56.3 987.6 58.6 986.1 62.5 990.3 62.8 988.4 60.1 995 58.6 1003.1 58.6 1010 60.5 1006.6 57.4 1006.2 53.6 1013.1 52.4 1022.4 52.8 1030.5 52.4 1027.4 50.1 1032.1 47.8 1036.3 47.8 1044 45.9 1054.1 45.1 1055.2 44.3 1065.7 43.9 1068.8 44.7 1077.3 42.8 1084.6 42.8 1085.4 40.9 1089.2 39.3 1098.5 37.8 1105.1 38.9 1099.7 40.1 1108.5 40.6 1109.3 42.4 1113.2 41.6 1124.4 41.6 1132.9 43.6 1136 45.1 1135.2 47 1130.9 48.2 1120.9 50.1 1117.8 51.3 1122.4 52 1128.2 52.8 1131.7 52.1 1133.6 54.7 1135.5 53.6 1141.8 52.8 1154.1 53.6 1154.9 55.5 1171.1 56 1171.5 53.2 1179.6 53.6 1185.8 53.6 1192 55.9 1193.9 58.2 1191.6 59.8 1196.2 62.8 1202.4 64.4 1206.3 60.5 1212.4 62.1 1219 60.9 1226.3 62.5 1229 61.3 1235.6 61.7 1232.5 58.2 1237.9 56.7 1272.7 59 1276.2 61.3 1286.1 64.4 1301.7 63.6 1309.4 64 1312.5 65.5 1312.1 68.6 1316.7 69.8 1322.1 69 1329.1 68.6 1336 69.4 1343.4 69 1350.3 72.5 1355 71.3 1351.9 68.6 1353.8 67.1 1365.8 68.2 1373.9 67.8 1385.1 69.8 1390.5 71.5M0 71.5 9.3 74.4 19.7 78.3 19.3 80.6 22 81.7 20.9 78.6 31.3 79.4 39 83 35.1 84.8 29 85.2 28.6 88.7 27.2 89.4 23.6 89.4 20.5 88.3 15.5 87.1 14.7 85.2 10.8 84.8 6.2 85.2 4.2 84 0 83.3M1390.5 86.8 1385.5 88.7 1380.5 88.3 1383.9 90.2 1386.3 93.3 1388.2 94.5 1388.6 96 1387.4 97.1 1380.5 96.4 1369.6 99.1 1366.2 99.5 1360.4 102.2 1354.6 104.9 1353 106.4 1347.6 103.7 1337.6 106.8 1335.7 105.2 1332.2 107.2 1326.8 106.4 1325.6 109.1 1321 113 1321.4 114.5 1325.6 115.3 1325.2 120.7 1321.4 121 1319.8 124.1 1321.4 125.7 1314.8 128 1313.2 132.2 1307.5 133.2 1306.3 137.2 1300.9 140.7 1299.3 138 1297.8 132.2 1295.5 123.7 1297.4 118.3 1300.9 116 1300.9 114.5 1307.1 113.3 1314 108.7 1320.6 104.9 1327.5 101.8 1330.6 96 1326 96.4 1323.7 99.8 1313.6 104.1 1310.5 99.1 1300.5 100.6 1290.8 106.8 1293.9 109.5 1285.4 110.3 1279.6 110.6 1279.6 107.9 1273.9 107.2 1268.8 109.1 1257.2 108.7 1244.5 109.9 1232 117.2 1217.1 126.4 1223.3 126.8 1225.2 129.2 1229 129.9 1231.4 128 1235.6 128.4 1241 132.6 1241.4 136.1 1238.3 139.9 1237.9 144.6 1236.4 150.7 1230.6 156.1 1229 158.8 1216.3 170 1210.9 172.3 1208.6 172.3 1206.3 170.4 1200.9 173.1 1200.5 174.6 1198.9 174.2 1197.3 175.8 1196.2 176.9 1196.2 179.3 1196.2 179.6 1194.3 180.4 1193.5 181.2 1192 182.3 1189.5 183.1 1187.7 183.9 1187.7 185.8 1187.3 186.2 1188.9 186.6 1190.8 188.5 1194.3 193.1 1195.4 195.4 1195.4 200.1 1193.9 202 1190.4 202.8 1187.3 204.3 1183.9 204.7 1183.5 202.8 1184.2 199.7 1182.3 195.8 1185.4 195.1 1182.7 192 1182.7 191.6 1180.8 191.2 1180.4 191.6 1179.2 192 1178.8 191.2 1178 191.2 1176.9 190.4 1178 188.9 1178.8 188.1 1178.4 187.7 1179.6 185.4 1179.2 184.7 1176.9 184.3 1175.4 183.5 1170 184.7 1166.9 186.2 1163 187.4 1164.9 185.4 1164.2 183.9 1167.2 181.6 1164.9 179.6 1161.8 180.8 1157.2 183.5 1154.9 185.8 1151 186.2 1149.1 188.1 1151.4 190.4 1154.5 191.2 1154.5 193.1 1157.6 193.9 1161.8 191.2 1165.3 192.8 1168 192.8 1168.4 195.1 1163 195.8 1161.1 198.1 1157.6 200.1 1155.7 202.4 1159.5 204.7 1161.1 208.6 1163.4 212 1166.1 215.1 1166.1 218.2 1163.8 219 1164.5 221.3 1166.9 222.4 1166.1 225.5 1165.3 228.6 1163 229 1160.3 232.8 1157.2 238.2 1153.7 242.9 1148.3 246.3 1142.9 249.4 1138.7 249.8 1136.3 251.7 1134.8 250.6 1132.5 252.1 1127.1 254 1123.2 254.8 1121.7 259.1 1119.7 259.1 1118.6 256.4 1119.7 254.8 1114.3 253.7 1112.8 254 1108.5 253.3 1107 257.5 1104.3 261 1103.5 263.7 1106.2 267.9 1110.1 272.9 1113.6 275.2 1115.9 278.3 1117.4 285.7 1117 292.2 1113.9 294.9 1109.3 297.2 1106.2 300.7 1101.6 304.2 1100 301.8 1101.2 299.1 1098.1 296.8 1095 296.4 1093.5 294.1 1091.5 290.3 1088.1 288.7 1084.6 288.7 1085.3 285.7 1081.9 285.7 1081.5 289.9 1079.6 295.7 1078.4 301.8 1081.1 301.8 1082.7 305.3 1083.4 308.8 1085.4 310.7 1087.7 311.5 1089.6 313.4 1090.8 313.8 1092.9 316.1 1094.6 318.4 1094.6 321.1 1094.2 323 1094.6 324.2 1095 326.5 1096.6 327.7 1097.7 331.1 1097.7 332.3 1095 332.7 1091.5 329.7 1086.9 326.5 1086.5 324.6 1084.2 322.3 1083.8 318.8 1082.3 316.9 1082.7 314.2 1081.9 312.3 1082.7 311.9 1081.5 310.7 1080.3 311.1 1079.6 309.2 1077.6 306.9 1075.7 304.9 1074.9 307.2 1074.5 304.9 1074.9 302.6 1076.1 299.1 1075.7 296.1 1076.9 293.4 1075.3 291.1 1075.7 286.8 1074.2 284.9 1073 280.3 1072.2 275.2 1070.7 272.2 1068 274.1 1063.7 276.8 1061.4 276.4 1059.1 275.6 1060.3 270.6 1059.5 267.2 1056.4 262.5 1057.2 261.4 1054.8 260.6 1052.1 257.5 1051 255.6 1050.6 253.7 1049.8 251.7 1048.3 249.4 1044.8 249.4 1045.2 251 1044 253.3 1042.1 252.5 1041.7 252.9 1040.6 252.5 1039 252.1 1038.6 253.7 1035.9 253.7 1031.2 254.4 1031.3 257.5 1029.4 259.4 1023.9 262.1 1019.3 266.8 1016.6 269.1 1012.7 271.8 1012.7 273.3 1010.8 274.5 1007.3 275.8 1005.4 276 1004.2 279.1 1005 284.1 1005.4 287.2 1003.9 290.7 1003.9 297.2 1001.5 297.6 1000 300.7 1001.2 301.8 997.7 303 996.1 305.3 994.6 306.6 991.1 303 989.2 297.6 987.6 293.8 986.5 291.8 984.6 288.4 983.4 283.4 982.6 281 979.1 275.6 977.6 268.3 976.4 263.3 976.4 258.7 975.7 254.8 970.3 257.1 967.6 256.7 962.5 252.1 964.1 250.6 962.9 249.4 958.7 245.9 955.6 245.2 954.4 242.1 951.7 239.4 944.4 240.2 938.2 240.2 932.8 240.6 925.5 239.4 921.2 238.6 917 238.2 915.3 233.3 913.5 232.8 910.4 233.4 906.5 235.2 901.9 234 898 230.9 894.2 229.8 891.9 226.3 888.8 221.3 886.8 221.7 884.1 220.5 883 222 880.5 221.7 881.4 223.6 881 224.4 882.2 227.1 883.7 230.5 885.7 231.3 886.4 232.8 889.1 234.4 889.1 235.9 888.8 237.5 889.1 238.6 890.3 239.8 891.1 240.9 891.5 241.7 891.1 239 892.2 237.1 893.4 236.7 894.6 237.9 894.6 240.2 893.8 242.5 894.6 244 895.3 244.8 898.4 244 901.5 244 903.8 244.4 906.5 241.7 909.2 239.4 911.9 236.7 912.7 238.2 913.1 241.3 914.6 244 917 245.2 919.7 245.9 922 246.3 923.9 248.7 925.1 249.8 926.2 250.6 926.2 251.3 924.7 253.7 924.3 254.8 922.8 256 921.2 258.7 919.3 258.3 918.5 259.4 918.1 261.4 918.5 263.7 918.1 264.5 916.2 264.5 913.9 265.6 913.5 267.5 912.7 268.3 910.4 268.3 908.8 269.5 908.8 271 906.9 272 904.6 271.8 902.3 272.9 900.3 272.9 897.6 274.1 896.9 276 896.9 277.2 893 278.7 886.8 280.6 883.4 283.3 881.4 283.7 880.3 283.3 878.3 284.9 875.6 285.7 872.5 286 871.4 286 870.6 287.2 869.4 287.4 869 288.4 867.1 288.4 866 288.7 863.3 288.7 862.1 286.4 862.5 284.1 861.7 283 861 280.3 859.8 278.7 860.6 278.3 860.2 276.8 860.6 276 860.6 274.5 859.8 272.5 858.6 271.4 858.6 269.9 856.7 268.7 854.4 265.2 853.2 262.1 850.5 259.4 849 259.1 846.3 255.2 845.9 252.5 846.3 250.2 844 245.9 842 244.4 840.1 243.6 838.9 241.3 838.9 240.6 837.8 238.6 836.6 237.9 835.1 234.8 832.8 231.7 830.8 229 828.9 229 829.7 225.7 830.3 224 830.1 223.6 828.9 225.7 828.1 228.2 827.3 230.1 826.2 230.9 825 229.4 823.1 227.8 820.4 222 820 221.7 821.6 218.2 822.7 217.8 827.7 217M875.6 165.4 879.5 161.5 883 160.8 884.9 158.4 888.4 157.7 893 156.1 896.1 156.9 900 156.5 900.7 159.2 900 162.7 896.9 162.3 893.4 163.1 893.4 165.8 889.5 165.4 889.5 166.5 891.9 167.7 893.4 171.2 898 172.3 898.8 173.9 897.6 175.4 898 176.2 899.6 175.8 902.7 175 903.8 175.4 906.5 175.8 906.5 178.5 902.7 180.8 899.6 179.3 898.8 183.1 901.5 183.2 901.5 185 900.3 185.8 903.4 187.4 903.4 193.9 903.1 194.7 900.3 195.1 896 195.8 891.5 195.1 888.8 193.1 885.3 192.4 884.1 189.7 884.1 187.7 885.3 187 886.1 185.4 886.1 182.3 889.9 182 888.8 181.2 886.8 180.8 884.9 178.1 883 176.2 878.7 171.5 879.1 168.8 875.6 165.4M673.2 144.2 678.6 143 681.3 143.8 683.7 141.9 687.5 142.2 692.2 141.5 697.6 141.5 700.7 139.6 697.6 138.8 699.1 137.6 701.8 134.2 697.2 133 695.2 130.3 693.7 127.2 691 126.8 689.1 123 687.5 121.8 683.3 121.4 687.1 118 687.5 114.9 683.3 114.9 679.4 115.3 683.3 111.4 675.9 111.4 673.6 115.3 671.7 118.3 673.6 120.3 673.6 124.1 676.7 123.4 675.6 125.3 676.7 126.1 681.3 126.8 683.3 129.2 684 131.5 683.3 131.5 677.5 131.1 679 135.7 674.8 136.9 676 138.4 682.1 139.2 683.7 139.9 678.6 139.9 674.8 143.8 673.2 144.2M671.3 129.5 672.1 132.2 669 135.7 662 138 656.7 137.6 659.7 133.4 657.8 129.5 663.2 126.4 665.9 124.9 669.4 124.5 673.2 126.8 671.3 129.5M743.1 192.4 743.9 190.4 748.2 190.8 755.1 190.1 754 193.1 754.3 194.3 753.6 196.2 750.5 194.7 748.6 194.3 743.1 192.4M726.9 179.3 730.8 178.5 733.1 181.2 732.7 186.2 730.8 186.2 729.2 187.4 727.7 186.2 727.7 181.6 726.9 179.3M728.1 174.2 731.6 171.5 732.3 174.6 730.8 177.7 729.2 176.9 728.1 174.2M820 202 825.4 200.8 828.9 199.7 826.6 202.4 822.7 203.9 820.8 203.5 820 202M786 201.2 788.7 200.8 794.9 200.8 796.8 201.2 796.4 202.4 790.7 202.8 786 201.2M1003.9 300.3 1007.3 301.5 1009.3 304.2 1011.2 308.4 1010.4 312.3 1008.9 313.4 1005.4 314.2 1003.9 311.1 1003.1 305.7 1003.9 300.3M894.2 61.7 898 64 910 65.1 917.3 64.8 915 62.8 910 61.7 909.2 54.7 915.4 54.7 914.6 52.4 923.1 50.9 919.3 50.5 930.1 46.6 942.4 44.3 958.7 40.9 961.4 42.4 950.2 44.3 933.2 47 921.2 50.9 915.4 54.7 909.2 58.2 910 61.7 902.7 62.8 894.6 60.1 894.2 61.7M735.8 30.5 746.2 36.6 752 37.8 756.7 41.2 761.3 41.2 763.2 38.2 778.3 36.6 768.3 34.3 778.3 32.9 768.6 32.4 766.7 29.3 753.6 30.1 748.2 30.1 735.8 30.5M772.5 28.1 791.8 27.4 801.1 28.5 795.3 30.8 784.1 31.2 772.5 30.5 772.5 28.1M778.3 35.9 790.7 37 783.7 39.3 775.2 37.8 778.3 35.9M874.9 28.1 888.4 25.4 894.2 26.2 884.5 27.4 883.4 28.9 879.1 28.9 874.9 28.1M1059.1 31.2 1073.8 26.2 1082.3 29.7 1081.1 33.2 1073 33.5 1062.1 32.8 1059.1 31.2M1082.3 31.6 1098.5 33.9 1102.4 35.5 1092.3 36.6 1079.2 37 1086.5 32 1082.3 31.6M1047.5 27.8 1065.7 23.9 1073.4 26.2 1057.6 29.3 1047.5 27.8M1224.4 47 1231.4 43.9 1241.8 43.9 1255.7 45.9 1252.6 49 1238.3 49 1232.1 49.7 1224.4 47M1259.6 47.4 1267.7 47 1277.3 47.8 1273.1 49.3 1266.9 49 1259.6 47.4M1236 54.7 1244.1 52.4 1249.5 54 1249.9 55.1 1244.1 55.1 1236 54.7M1385.5 63.2 1390.5 61.7M0 61.7 7.7 61.7 9.3 62.5 3.9 63.6 0 64.4M1390.5 64.4 1386.3 64.4 1385.5 63.2M1241.4 177.7 1243.3 183.1 1243.3 186.2 1239.9 190.1 1239.9 194.3 1238.3 197.4 1239.1 199.3 1237.2 202 1235.6 200.1 1234.8 201.6 1232.1 203.5 1229 203.5 1225.2 203.9 1224 202.4 1223.3 205.1 1219.8 208.2 1217.1 207 1217.1 203.9 1213.6 203.5 1210.1 204.7 1205.9 206.6 1201.2 206.6 1200.9 205.1 1207.4 200.8 1215.1 199.7 1219.4 200.5 1223.3 195.1 1224.4 193.1 1226 195.4 1231.8 191.6 1233.7 190.1 1236 185.4 1235.6 180.8 1237.2 178.5 1241.4 177.7M1236 176.9 1237.2 174.2 1240.2 173.1 1241.4 174.2 1248.4 175.4 1251.1 171.9 1257.2 170.4 1251.8 171.5 1256.5 166.2 1248 165.8 1243.6 161.5 1242.6 164.6 1241.4 170 1237.2 170.4 1235.2 173.1 1236 176.9M1197.4 206.6 1201.2 206.6 1205.1 209.7 1202.4 215.9 1200.1 217.8 1198.1 216.3 1198.9 212.8 1196.6 211.6 1195.1 208.9 1197.4 206.6M1206.6 208.2 1212.4 204.7 1215.1 205.9 1215.9 207 1213.6 209.3 1212.1 208.2 1210.1 208.9 1209 211.3 1206.6 210.1 1206.6 208.2M1247.2 130.3 1248.7 134.2 1248.4 137.6 1249.9 141.9 1254.2 148.5 1248.4 147.3 1246 152.7 1249.5 156.9 1249.5 159.6 1246.4 157.3 1244.1 160 1243.3 156.9 1243.7 153 1243.3 148.8 1244.1 146.1 1244.5 140.7 1242.2 137.2 1242.6 131.8 1246 129.9 1244.5 128.4 1246.4 127.6 1247.2 130.3M1165.7 240.9 1166.3 241 1163.4 249.4 1161.5 252.5 1159.5 249.4 1159.1 246.3 1161.5 242.9 1164.5 239.8 1165.7 240.9M1121.3 265.2 1118.2 267.2 1115.1 266 1114.7 262.5 1116.6 261 1120.9 259.8 1123.2 259.8 1124 261.4 1122.4 262.9 1121.3 265.2M1161.5 266 1163.8 266 1167.2 266 1167.6 267.2 1167.2 268.7 1168.4 271.4 1167.6 274.5 1165.3 276 1164.5 279.1 1165.3 282.2 1167.6 282.6 1169.2 282.2 1174 284.1 1173.8 286.4 1175 287.2 1174.6 289.1 1171.5 287.2 1170 284.9 1169.2 286.4 1166.5 284.1 1163 284.9 1161.1 283.7 1161.5 282.2 1162.6 281.4 1161.5 280.3 1161.1 281.8 1159.1 279.6 1158.4 277.9 1158.4 274.1 1159.9 275.6 1160.3 269.5 1161.5 266M1159.9 285.3 1163.4 285.7 1164.5 286.8 1163.8 290.3 1161.8 288.4 1159.9 285.3M1166.1 291.4 1168.4 292.6 1170.7 292.6 1170.7 294.1 1168.8 296.1 1166.5 297.2 1166.4 295.3 1166.5 293.4 1166.1 291.4M1172.3 295.3 1171.5 297.6 1174.6 294.1 1174.1 297.6 1172.7 299 1171.5 301.5 1169.6 302.2 1168 299.9 1169.6 297.6 1170 295.3 1172.3 295.3M1175.4 288.7 1178.8 289.1 1180 290.3 1181.2 294.9 1178.1 293.8 1178.1 295 1179.2 297.2 1178.1 298.8 1177.3 298.4 1177.3 295.7 1176.1 295.3 1175.4 293 1177.7 293.4 1177.7 291.8 1175.4 288.7M1156.8 293.4 1157.6 296.4 1154.9 298.8 1153 301.5 1147.9 304.9 1149.9 302.2 1152.6 299.9 1154.8 297.2 1156.8 293.4M1183.5 304.9 1183.9 307.2 1183.9 309.6 1182.7 313 1181.2 309.2 1179.6 311.1 1180.8 314.2 1179.6 315.7 1175 313.4 1173.8 310.7 1175 308.8 1172.7 307.2 1171.5 308.8 1169.6 308.4 1166.9 310.7 1166.1 309.6 1167.6 306.5 1170 305.3 1172.3 303.8 1173.4 305.7 1176.5 304.5 1177.3 302.8 1180 302.7 1179.6 299.5 1182.7 301.5 1183.1 303.4 1183.5 304.9M1116.3 331.5 1119 329.6 1121.7 330.8 1124.8 330 1125.5 326.9 1127.1 326.1 1131.7 325.4 1134.4 322.3 1136.3 320 1137.9 318.4 1141.4 316.5 1144.1 313.8 1146 310.7 1147.5 310.7 1149.5 312.6 1149.9 314.2 1155.7 316.5 1155.3 318 1152.6 318 1153.3 320 1150.6 321.5 1148.3 325 1151 328.4 1150.6 330.4 1154.8 333.8 1150.3 334.2 1149.1 336.9 1149.1 340.4 1145.6 343.1 1145.2 346.9 1143.7 352.7 1143.3 351.6 1139.1 353.1 1137.5 350.8 1134.8 350.4 1132.9 349.3 1128.2 350.8 1126.7 348.8 1124 348.9 1120.9 348.5 1120.5 343.5 1118.6 342.3 1116.6 339.2 1116.1 335.8 1116.6 332.3 1116.3 331.5M1063.3 316.1 1071.8 317.3 1075.3 320.7 1078 323.4 1080.3 325 1083.8 329.2 1088.1 329.2 1091.2 331.9 1093.5 335 1096.2 336.9 1094.6 340 1097 341.6 1098.5 341.6 1098.9 344.3 1100.4 346.2 1103.1 346.6 1105.1 349.3 1104.3 353.9 1103.9 360.1 1099.7 360.1 1096.6 356.6 1091.5 353.5 1090 351.2 1086.9 348.1 1085 345.4 1081.9 340 1078.8 336.5 1077.5 333.5 1076.1 330.4 1072.6 327.7 1070.7 324.6 1067.6 322.3 1063.7 318.2 1063.3 316.1M1102.4 363.9 1105.1 360.1 1109.7 360.2 1112.8 361.6 1114.3 362 1114.7 363.5 1122.1 363.9 1123.2 362.4 1130.2 363.9 1131.6 366.6 1137.5 367.4 1142.1 369.7 1137.9 371.2 1133.6 369.3 1130.2 369.7 1125.9 369.3 1122.4 368.5 1117.8 367 1115.1 366.6 1113.6 367.4 1106.6 365.8 1105.8 363.9 1102.4 363.9M1146 369.3 1150.6 368.5 1155.3 370.9 1152.2 369.7 1148.3 372 1146 371.6 1146 369.3M1158.4 371.2 1160.3 370.1 1163.8 370.1 1166.5 370.1 1170 368.5 1169.6 370.5 1163.8 371.6 1158.4 371.2M1158.4 373.5 1160.3 374.7 1161.8 375.7 1161.5 376.6 1159.9 377 1154.9 374.3 1158.4 373.5M1175.7 376.2 1172.7 377.4 1172.3 376.6 1172.7 375.5 1174.1 373.2 1177.9 371.6 1178.4 370.9 1181.5 369.7 1184.2 369.7 1185.6 369.3 1186.9 369.7 1185.7 370.9 1181.5 372.4 1178.4 373.5 1175.7 376.2M1158.8 335.4 1162.2 332.3 1165.3 333.5 1170 333.8 1174.6 333.8 1178.4 331.1 1178.8 331.9 1175.7 335.8 1173 336.5 1169.2 335.8 1163 335.8 1159.5 336.5 1159.1 339.2 1162.2 342.7 1164.5 341 1171.5 339.6 1171.5 341.6 1169.6 340.8 1168 343.1 1164.5 344.6 1168.4 349.6 1167.6 350.8 1171.1 355.4 1171.1 357.7 1168.8 358.9 1167.2 357.7 1169.2 354.7 1165.3 356.2 1164.5 355 1164.9 353.5 1162.2 351.2 1162.5 347.3 1159.9 348.5 1160.3 358.5 1158 359.3 1156.4 358.1 1157.6 354.7 1156.8 350.8 1155.3 350.8 1154.1 348.1 1155.7 345.4 1156 342.7 1158 336.5 1158.8 335.4M1189.6 331.1 1192 331.5 1192.4 333.1 1192 336.2 1190 335.8 1189.5 338.5 1191.2 340.4 1190 340.8 1188.5 338.5 1187.3 333.5 1188.1 330.4 1189.3 328.8 1189.6 331.1M1195.1 348.1 1199.3 349.3 1200.5 352.3 1197.3 350.4 1194.3 350.4 1192 350.4 1189.3 350.4 1190 348.1 1195.1 348.1M1185.4 352 1182.7 351.2 1181.9 349.6 1185.8 349.3 1186.6 350.8 1185.4 352M1201.2 342.7 1199.3 340.8 1204.7 340 1206.6 338.9 1212.8 340.4 1213.2 341.9 1214.4 348.1 1218.6 350.4 1221.7 346.2 1226 343.9 1229.4 343.9 1232.9 345.4 1235.6 346.6 1239.9 347.3 1246.4 350 1253.8 352.3 1256.5 354.3 1258.4 356.2 1259.1 358.5 1265.4 360.8 1266.5 362.8 1262.9 363.1 1263.8 365.8 1267.3 368.2 1269.6 372.4 1271.9 372.4 1271.9 373.9 1274.6 374.7 1273.5 375.5 1277.7 377 1277.3 378.2 1274.6 378.6 1273.9 377.4 1266.5 376.2 1263.4 373.9 1261.5 371.6 1259.2 368.5 1254.2 366.6 1251.1 367.8 1248.7 368.9 1249.1 371.9 1246 373.2 1244.1 372.8 1239.9 372.4 1236.4 369.3 1232.5 368.5 1231.8 369.7 1226.7 369.7 1228.3 366.6 1231 365.5 1229.8 361.2 1227.9 358.1 1220.5 354.7 1217.5 354.7 1211.7 350.8 1210.5 352.7 1208.9 353.1 1208.2 351.6 1208.2 350 1205.1 348.1 1209.3 346.9 1212.1 346.9 1211.7 345.8 1205.9 345.8 1204.3 343.5 1201.2 342.7M1286.6 354.7 1285.4 355.8 1284.7 353.5 1283.9 352 1280 348.9 1277.3 347.7 1278.1 346.9 1280.4 348.1 1281.6 348.9 1283.1 349.6 1286.2 352.7 1286.6 354.7M1283.5 356.2 1282.7 358.5 1280.4 358.9 1278.5 359.7 1277.7 360.8 1275.4 361.6 1273.5 361.6 1270.4 360.4 1268.1 359.3 1268.4 358.1 1271.9 358.9 1273.9 358.5 1274.6 356.6 1275 356.6 1275.4 358.5 1277.7 358.5 1278.9 357 1280.8 355.8 1280.4 353.5 1282.7 353.1 1283.5 356.2M1293.2 357.7 1294.3 358.9 1295.9 361.2 1297.4 363.5 1296.3 363.9 1294.7 362.4 1292.8 360.1 1292 357 1293.2 357.7M1299.7 363.5 1303.6 365.5 1302.8 365.8 1299.7 363.5M1311.7 368.2 1312.9 369.3 1312.9 370.1 1309.8 368.5 1307.8 367.4 1306.3 365.8 1307.1 365.5 1308.6 366.6 1311.7 368.2M1316.7 369.3 1318.3 372.4 1319.8 374.3 1319 375.1 1316.3 371.6 1315.6 369.3 1316.7 369.3M1312.5 372.8 1314.8 373.5 1316 374.3 1316.7 375.5 1312.5 375.1 1311.7 374.3 1312.5 372.8M1319.8 376.6 1322.5 378.9 1320.6 378.6 1319.8 376.6M1339.5 397.8 1341.1 398.6 1338.7 393.6 1339.5 397.8M1342.2 401.3 1341.1 399.8 1343.4 400.9 1342.2 401.3M1328.7 414.8 1330.6 414.8 1334.5 418.3 1338.7 421 1340.7 422.9 1339.1 423.7 1334.5 421 1329.5 416 1328.7 414.8M1384.3 404 1385.5 405.2 1385.1 407.5 1382.4 407.9 1380.5 407.5 1380.1 405.5 1381.6 404.4 1384.3 404M1388.2 402.1 1385.5 402.8 1385.1 401.3 1387 400.5 1390.5 399.4M1133.3 431.4 1135.2 429.1 1134.4 424.1 1136 421.4 1136.3 424.1 1137.9 421.4 1141.4 420.2 1142.9 418.7 1146 417.1 1147.9 416.7 1148.7 417.1 1151.8 416 1154.1 415.6 1154.9 414.4 1156 414.4 1158 414.3 1162.2 413.3 1164.2 411.3 1165.3 409.4 1167.2 407.5 1167.6 404 1170.3 400.5 1171.9 404 1173.8 403.2 1172.3 401.3 1173.4 399.4 1175.4 400.1 1175.7 397.5 1177.7 395.5 1178.8 394 1180.8 393.2 1180.8 392.1 1182.3 392.4 1182.3 391.7 1186.2 390.5 1188.9 392.4 1191.2 394.8 1193.5 394.8 1195.8 395 1195.1 392.8 1197 389.7 1198.5 389 1198.1 387.8 1199.7 385.5 1202 384.3 1203.9 384.7 1207.4 384 1207.4 382 1204.3 380.9 1206.6 380.1 1209 381.3 1211.3 382.8 1214.4 383.6 1215.5 383.2 1217.8 384.3 1220.2 383.4 1221.7 383.6 1222.5 383.2 1224.2 385.1 1223.3 387 1221.7 388.6 1220.4 388.6 1220.9 390.1 1219.8 392.1 1218.2 394 1218.6 395.1 1221.7 397.5 1224.8 398.6 1226.7 399.8 1229.4 402.1 1230.6 402.1 1232.5 403.2 1233.3 404.4 1236.8 405.5 1239.5 404.4 1240.2 402.1 1241 400.5 1241.4 398.2 1242.6 395.1 1242.2 393.6 1242.2 392.4 1241.8 390.1 1242.6 387 1243 386.3 1242.6 385.1 1243.3 383.2 1244.1 380.9 1244.1 379.7 1245.7 378.6 1246.8 380.5 1247.2 382.8 1248 383.2 1248.4 384.7 1249.5 386.7 1249.9 389 1249.9 390.5 1251.1 393.2 1253.8 392.1 1254.9 393.6 1256.9 395.1 1256.5 396.7 1257.2 400.1 1257.6 402.1 1258.8 402.5 1259.9 405.9 1259.6 407.9 1260.7 410.4 1265 412.5 1267.7 414.3 1270 416 1269.6 416.7 1271.9 419.4 1273.5 423.3 1275 422.5 1276.6 424.4 1277.3 423.7 1278.1 427.9 1280.8 430.2 1282.7 431.8 1285.8 434.8 1286.6 437.9 1287 439.9 1286.6 442.6 1288.5 445.6 1288.1 449.1 1287.4 451 1286.6 454.5 1286.6 456.4 1285.8 459.1 1284.3 463 1281.2 464.5 1279.6 467.6 1278.5 469.5 1277.3 473 1275.8 474.9 1275 477.6 1274.2 480.3 1274.6 481.5 1272.3 483 1268.1 483 1264.6 484.6 1262.7 486.1 1260.3 487.7 1257.2 486.1 1254.9 485.3 1255.3 483.4 1253.4 484.2 1249.9 486.9 1246.4 485.7 1244.5 485.3 1242.2 485 1238.3 483.8 1236 481.5 1235.2 478.4 1234.5 476.1 1232.5 474.9 1228.7 474.6 1229.8 472.6 1229 469.9 1227.1 472.6 1223.6 473.4 1226 471.1 1226.3 468.8 1227.9 466.8 1227.5 464.1 1224.4 467.6 1222.1 468.8 1220.5 471.9 1217.5 470.3 1217.5 468 1215.1 465.3 1213.2 463.8 1214 463 1208.9 460.7 1206.3 460.6 1202.4 458.7 1195.4 459.1 1190.4 460.3 1186.2 461.8 1182.3 461.4 1178.4 463.4 1175 464.4 1174.2 466.5 1173 468 1169.6 468 1167.2 468.4 1163.8 467.6 1161.1 468 1158.4 468.3 1156 470.3 1154.9 470.3 1153 471.1 1151 472.6 1148.3 472.2 1145.6 472.2 1141.8 469.9 1139.4 469.2 1139.4 466.8 1141.4 466.5 1142.1 465.7 1142.1 464.1 1142.5 461.4 1142.1 459.1 1140.2 455.3 1139.4 453 1139.4 451 1137.9 448.3 1137.9 447.2 1136.3 445.6 1135.6 442.6 1133.6 439.5 1132.9 437.9 1134.8 439.5 1133.3 436 1135.2 437.2 1136.3 438.7 1136.3 436.8 1134.4 433.7 1134 432.5 1133.3 431.4M1256.9 494.6 1260.7 495.8 1262.7 495.4 1265.7 494.6 1268.1 495 1268.4 499.6 1266.9 500.8 1266.5 503.8 1265.4 502.7 1262.7 505.4 1261.9 505.4 1259.2 505 1256.9 501.9 1256.5 499.2 1254.2 496.1 1254.2 494.2 1256.9 494.6M1363.5 470.3 1365.8 472.2 1368.5 473.4 1369.6 476.9 1372.3 480.7 1372.7 478 1374.3 479.2 1375 482.3 1378.1 483.4 1380.5 483.6 1382.8 482.3 1384.7 482.6 1383.9 486.1 1382.7 488.4 1379.7 488 1378.5 489.2 1378.9 491.1 1378.5 491.9 1377 493.8 1375 496.5 1372 498.1 1371.6 496.9 1370 496.5 1372 493.4 1370.8 491.1 1366.6 489.6 1366.9 488 1369.6 486.9 1370 483.8 1370 481.5 1368.5 478.8 1368.5 478 1366.6 476.5 1363.8 473 1361.9 470.3 1363.5 470.3M1362.7 493.4 1364.2 496.5 1367.2 495 1368.1 496.5 1368.1 498.5 1366.9 500 1364.2 503 1362.3 504.6 1363.8 506.5 1360.8 506.5 1357.7 507.7 1356.5 510.4 1354.2 514.3 1351.1 516.2 1349.2 517 1345.7 517 1343.4 515.8 1339.1 515.4 1338.4 514.3 1340.3 511.2 1345.3 507.3 1347.6 506.5 1350.7 505.4 1353.8 503.1 1356.1 501.1 1358.1 498.5 1359.2 497.3 1360 495.2 1362.7 493.4M94.6 263.7 93.9 264.5 93.1 263.7 93.1 262.9 92.3 261.4 93.1 260.2 93.1 259.1 95.8 260.3 97.3 262.1 94.6 263.7M92.3 257.9 91.2 257.9 90 256.7 91.5 256.7 92.3 257.9M86.1 255.2 84.6 255.2 83.8 254 85 253.7 86.1 255.2M80 252.6 79.2 252.9 78 252.1 79.6 251.7 80 252.6M960.6 524.7 967.6 526.6 967.9 527.4 964.1 528.5 960.6 529.3 960.6 524.7M-0.1 661.7 13.3 663.1 21.7 661.7 38.4 660.3 66.4 665.4 94.3 665.9 116.7 666.5 141.8 664.5 122.3 660.3 102.7 659.8 104.1 654.8 105.5 650.6 88.7 650.6 108.3 649.7 127.9 647.8 130.7 643.6 108.3 642.2 91.5 639.4 83.1 633.8 99.9 635.2 119.5 632.4 130.7 631 133.4 626.8 150.2 626.2 178.2 622.6 203.3 620.7 220.1 621.2 236.9 620.7 253.6 621.2 262 625.4 276 627.4 290 626.8 306.7 626.8 303.9 622.6 295.5 619.8 301.1 614.2 320.7 614.2 317.9 619.8 331.9 619.8 348.7 617.9 356.5 619.8M63.6 640.8 72 638.5 80.3 642.2 72 645 63.6 641.3M356.6 619.8 360.5 618.4 380 621.2 402.4 619.8 419.2 617.9 430.3 615.6 433.1 604.4 435.9 596.1 449.9 587.7 469.5 582.1 455.5 589.1 441.5 597.5 449.9 604.4 458.3 612.8 459.7 621.2 452.7 625.4 430.3 629.6 408 632.4 395.4 635.2 394 642.2 408 646.4 438.7 647.8 458.3 653.4 469.5 657.6 486.2 653.4 508.6 652 531 653.4 556.1 649.7 584.1 646.4 578.5 642.2 557.5 642.2 558.9 638 584.1 632.4 612 628.2 631.6 624 634.4 619.8 653.9 612.8 667.9 611.4 693.1 611.4 706.5 610M403.8 612.8 416.4 610 419.2 603.1 424.8 604.4 430.3 614.2 416.4 617 403.8 613.4M484.8 647.8 497.4 643.6 505.8 638 519.8 638 528.2 643.6 519.8 647.8 497.4 648.6 484.8 647.8M438.7 645.8 461.1 645 463.9 647.8 458.3 650.6 440.1 649.7 438.7 645.8M706.6 610.6 710.5 609.5 724.4 605.8 730 607.2 737 610.6 744 607.2 752.4 608.6 760.8 605.8 777.6 606.7 783.1 610 802.7 608.6 819.5 604.4 825.1 601.1 836.2 604.4 844.6 605.8 853 602.2 869.8 598.3 883.8 595.5 892.1 591.9 903.3 590.5 914.5 592.7 922.9 596.6 934.1 598.9 942.4 596.6 959.2 598.3 963.4 603.1 957.8 608.6 956.4 614.2 966.2 615.6 973.2 611.4 978.8 606.7 992.8 604.4 1001.1 599.4 1015.1 596.6 1029.1 596.1 1033.3 592.7 1038.9 596.1 1056.5 596.1M1056.6 596.1 1078.4 596.1 1091 589.9 1103.6 595.5 1117.6 593.8 1131.5 591 1142.7 594.7 1156.7 596.6 1170.7 593.8 1193 593.3 1212.6 591.9 1216.8 589.1 1221 595.5 1237.7 595.5 1257.3 595.5 1260.1 598.9 1274.1 601.7 1289.4 603.1 1304.8 606.7 1321.6 610 1341.1 610 1355.1 612.8 1349.5 621.2 1338.3 625.4 1327.2 629.6 1325.8 635.2 1332.8 640.2 1339.7 640.8 1318.8 643 1311.8 649.7 1321.6 653.4 1343.9 658.1 1357.9 660.3 1371 662.6"/>
<clipPath id="c0"><rect x="58.5" y="113.5" width="1371.2" height="674.7"/></clipPath>
<clipPath id="c1"><rect x="58.5" y="1098.5" width="1371.2" height="674.7"/></clipPath>
<clipPath id="c2"><rect x="58.5" y="2083.5" width="1371.2" height="674.7"/></clipPath>
</defs><rect width="1500" height="3000" fill="#fff"/>
<g clip-path="url(#c0)">
<g shape-rendering="crispEdges">
<rect x="57.5" y="112.5" width="1373.2" height="676.7" fill="#00009b"/>
<path fill="#0000d6" d="M62.5 113.5 1429.7 113.5 1429.7 788.2 58.5 788.2 58.5 113.5ZM453.8 149.4 442.3 152.8 436.1 157.4 433.6 161.4 432.6 165.4 433.5 173.4 438.3 180.9 442.3 183.3 449.2 185.4 466.3 188.4 490.2 188 514.2 190.3 526.2 189.3 550.2 183.1 566.1 177.4 581.1 169.4 584.8 165.4 585.3 161.4 582.8 157.4 575.6 153.4 534.2 146.5 498.2 145.6 466.3 147.4ZM655.3 217.3 626.2 230.4 598.2 246.5 578.2 253.9 558.2 255.1 538.2 261 518.2 263.6 450.3 266 418.3 268.9 404.6 273.2 399.6 277.2 399.3 281.2 402.6 285.2 406.3 286.9 422.3 290.3 434.3 294.9 442.3 296.5 470.3 298.7 514.2 299.4 554.2 302.6 574.2 302.3 586.2 300.4 606.2 294.4 622.2 292.7 646.2 287.7 666.1 285.7 686.1 280.3 698.1 274.2 704.8 269.2 715.9 257.2 721.1 249.2 723 241.3 722.1 234.5 719.9 229.3 714.1 222.4 706.1 217.4 694.1 214.4 678.1 213.9 666.1 214.6ZM610.6 668.4 586.2 670.5 554.2 675.8 544 680.4 543 684.4 548.8 688.4 582.2 696.9 614.2 703.3 654.2 707.3 686.1 709.2 698.1 708.4 706.6 704.4 710.2 700.4 711.5 696.4 711.3 692.4 710.1 689.7 706.1 685.6 682.6 676.4 646.2 669.7 622.2 668.1ZM119.4 692.4 101.9 696.4 95 700.4 91.5 704.4 89.4 708.4 88.5 712.3 88.8 716.3 90.5 720.3 93.9 724.3 98.5 727.4 102.5 728.8 110.5 729.5 122.5 728 126.5 728.5 146.4 734.6 154.4 739.5 172.4 756.3 182.4 764.1 190.4 768.7 198.4 771.4 214.4 773.1 230.4 776.8 254.4 780.6 278.4 780.8 302.4 778.7 310.4 779.2 326.3 781.9 338.3 782.3 350.3 781.3 366.3 775.6 374.3 774.5 394.3 777.7 406.3 780.5 414.3 781.2 422.3 780.6 437 776.2 441.6 772.2 443.3 768.2 442.6 764.2 439.5 760.3 430.3 754 422.3 751.1 406.3 747.5 382.3 736.9 374.3 734.2 338.3 729.1 310.4 726.1 266.4 723 234.4 718.9 222.4 715 210.4 709.9 195.7 700.4 188.1 696.4 176.1 692.4 166.4 690.6 150.4 689.4Z"/>
<path fill="#0000ff" d="M1213.8 145.4 1261.8 143.3 1321.8 145.1 1353.7 147.9 1385.7 151.7 1413.7 155.9 1429.7 160 1429.7 695.8 1415.7 704.4 1406 712.3 1403.3 716.3 1403.2 720.3 1405.7 724.3 1424.3 736.3 1429.2 744.3 1429.7 765 1425.7 768.8 1397.7 774.6 1377.7 776.9 1365.7 778 1329.8 779 1301.8 781.6 1281.8 780.6 1269.8 777 1261.8 775.6 1253.8 776.6 1241 780.2 1217.8 781.8 1189.8 779.1 1173.8 776.6 1149.9 778.8 1117.9 777.5 1102.9 772.2 1093.9 768 1092.2 764.2 1093.2 760.3 1102.4 748.3 1103.5 744.3 1103.5 740.3 1102.4 736.3 1097.9 729.6 1093.9 726.4 1089.9 724.6 1037 712.3 1005.9 708.2 966 704.7 918 702.2 898 698.6 882 699.2 874 697.9 866 694.6 858.1 688.4 847.2 668.4 843.8 664.4 838 660.3 821.3 652.5 810.1 648.8 778.1 641.2 762.1 639.1 706.1 639.6 654.2 638.6 630.2 639.1 570.2 642.1 534.2 645.5 506.2 649.7 482.3 654.5 450.3 659 414.3 660.7 350.3 665.9 282.4 675.4 254.4 676 190.4 671.5 150.4 671.7 122.5 674.3 94.5 678.4 58.5 687.8 58.5 164.9 78.5 170.4 134.5 182.8 146.4 186.4 152.9 189.4 158.4 193.8 164.4 201.3 167.5 209.3 168.5 221.3 170.4 229.9 174.2 237.3 182.5 245.2 193.3 253.2 202.4 258.5 225.3 269.2 239.8 277.2 254.4 282.1 274.7 293.2 290.4 299.4 326.3 307.6 342.3 309 358.3 311.6 378.3 312.4 394.3 315.3 414.3 314.8 430.3 318.8 446.3 321.8 466.3 323.1 498.2 326.6 526.2 330.3 558.2 336.1 582.2 339.4 602.2 340.7 622.2 346 654.2 351.9 694.1 356.2 710.1 357.2 726.1 355.9 738.1 353 747.1 349 754.1 342.9 758.4 337.1 761.2 329.1 759.7 301.1 761.7 289.2 764.8 281.2 768.9 273.2 781.8 253.2 794.1 239.2 830 202.8 842 195.1 871.2 181.4 882 177.6 914 173.9 1073.9 162.4 1137.9 155.7 1173.8 148.5 1197.8 146.1ZM334.3 207.6 338.3 206.7 346.3 207.7 350.3 209.5 358.3 215.3 366.3 218.9 370.3 219.3 374.3 218.5 390.7 213.3 398.3 212.3 406.3 213.2 422.3 217.5 442.3 219 450.2 221.3 456.4 225.3 457.7 229.3 454.3 233.3 442.3 237.3 418.3 236.9 402.3 238 390.3 237 374.3 230.1 370.3 229.5 366.3 230.2 355 237.3 345.2 241.3 334.3 243.7 326.3 243.3 321.9 241.3 318.3 237.3 317 233.3 316.9 229.3 318.3 224.3 322.3 217.2 326.3 212.5 330.3 209.5ZM526.2 731.1 530.2 730.2 558.2 732 574.2 736.5 590.2 737.7 602.2 741.8 612.9 744.3 616.1 748.3 613 752.3 610.2 753.4 602.2 755.2 590.2 756.1 582.2 755.5 566.2 752 546.2 749.5 529.5 744.3 522.8 740.3 521.2 736.3 523.9 732.3Z"/>
<path fill="#0030ff" d="M1285.8 161.3 1305.8 161.2 1329.8 162.2 1365.7 165.2 1401.7 170.4 1429.7 175.7 1429.7 675.2 1381.7 685 1369.7 686.6 1353.7 690.2 1337.8 692.1 1325.8 694.8 1309.7 696.4 1293.8 699.4 1277.8 700.3 1261.8 702.7 1245.8 703.7 1229.8 705.8 1197.8 707.8 1169.9 707.3 1137.9 704.3 1129.9 702.5 1113.9 697.4 1097.9 695.1 1093.9 693.9 1077.9 685.9 1053.3 676.4 1036.3 668.4 1029.9 664.6 1025.9 660.9 1011.8 644.5 1002.9 636.5 994 631.1 982 626.1 958 619.7 934 617 926 616.5 870 616.8 850 615.1 830 611.5 806.1 604.8 774.1 591.4 751.4 576.6 746.1 572.6 742.5 568.6 739.6 560.6 738.6 552.7 739.2 532.7 741 520.7 743.6 512.7 747.3 504.7 752.7 496.8 762.1 485.8 764 480.8 763.2 472.8 751.5 444.9 748.3 432.9 748.6 416.9 752.6 389 759.6 377 772.4 361 777.8 353 781.8 345.1 787 329.1 802.1 300.1 808.6 289.2 814.7 281.2 822.3 273.2 841.1 257.2 874 235.9 906 219.5 934 207.4 966 198.6 986 195.3 1001.9 193.9 1029.9 192.8 1081.9 192.3 1097.9 191 1129.9 185.6 1165.9 174.1 1193.8 168.1 1229.8 163.9ZM62.5 188.1 90.5 202.6 110.5 216.5 120 225.3 134.8 241.3 170.4 273.2 210.4 314.1 218.4 320.2 228.1 325.1 238.4 329.2 258.4 334.4 286.4 339.6 318.3 343.9 354.3 347.5 378.3 349.1 402.3 347.1 418.3 349.3 446.3 347 490.2 349.9 514.2 352.6 534.2 355.9 558.2 361 586.6 369 621.2 381 638.3 389 644.4 393 652.1 400.9 666.1 419 693.5 440.9 701 448.9 703.2 452.8 704.2 456.8 704.1 460.8 702.1 469.3 697.6 476.8 690.1 481.5 674.1 487.3 646.2 493.8 634.2 499.2 626.2 505 622.2 508.9 618.2 514.5 609.8 536.7 603.3 556.6 601.1 560.6 597.7 564.6 594.2 566.6 578.2 569.8 544.6 580.6 522 592.6 498.2 613.2 492.4 616.5 470.3 626.1 450.3 630.3 434.3 634.8 414.3 638.8 406.3 639.2 370.3 637.7 362.3 638.2 274.4 651.1 254.4 652.4 238.4 654.3 142.5 660.8 106.5 664.8 58.5 672.2 58.5 185.8Z"/>
<path fill="#0064ff" d="M1257.8 177 1297.8 175.1 1321.8 175.4 1349.7 177.5 1413.7 186.9 1421.7 188.6 1429.7 191.6 1429.7 661.8 1369.7 670.2 1357.7 671.2 1341.8 673.9 1325.8 675.1 1309.8 677.7 1297.8 678.2 1281.8 680.9 1265.8 681.7 1249.8 684 1217.8 685.1 1189.8 684.6 1157.9 681.8 1133.2 676.4 1125.9 672.5 1121.1 668.4 1114.9 660.4 1113.7 656.5 1114 652.5 1115.8 648.5 1118.9 644.5 1125.9 639.4 1133.9 635.9 1141.9 633.6 1153.9 631.7 1181.8 629.6 1249.8 628.1 1273.8 625.4 1281.8 623.2 1289.8 618.9 1292.7 616.5 1295.4 612.5 1295.6 608.5 1293.3 604.6 1285.8 599.1 1277.8 595.6 1265.8 593.4 1253.8 593.5 1225.8 597.1 1201.8 598.5 1169.9 596.1 1141.9 592.7 1117.9 591.6 1085.9 591.1 990 592.1 958 591.2 894 587.4 854 582.7 838 579.8 822.1 575.4 802.1 568.4 786.1 565.6 782.1 563.9 778.9 560.6 772.8 544.7 770.6 532.7 770.9 524.7 772.9 512.7 780.1 492.8 782 480.8 781 464.8 776.1 444.9 774.4 432.9 774.5 420.9 776.6 408.9 780.8 397 784.7 389 792.3 377 810.2 353 819.8 333.1 829.7 317.1 842.9 293.2 856.3 277.2 869.3 265.2 890 250.5 918 235.2 946 223 974 215.5 1001.9 211.3 1033.9 210.1 1069.9 211 1097.9 215.8 1113.9 215 1137.9 215.1 1145.9 213.5 1153.9 210.6 1161.9 206.5 1181.8 194 1201.8 186.6 1225.8 180.8ZM60.9 205.3 98.5 235.2 138.5 269.2 150.8 281.2 159.9 293.2 163.7 301.1 167.1 313.1 170.2 329.1 173.4 337.1 178.4 342.7 186.4 347 195 349 222.4 352.4 250.4 353.8 366.3 363.2 378.3 363.6 402.3 362.8 422.3 365.4 446.3 366.7 478.3 372 494.2 375.6 514.2 381.8 522.2 385 528.9 389 533.3 393 538.1 400.9 539.1 408.9 538.1 412.9 532.9 420.9 514.2 435.9 504.5 444.9 498.8 452.8 498.2 458.1 498.9 460.8 501.4 464.8 505.3 468.8 511 472.8 550.2 485.5 556.7 488.8 561.6 492.8 566.2 500.3 567.4 508.7 565.6 520.7 562.2 527.5 557.3 532.7 552.1 536.7 538.7 544.7 526.2 550.7 494.2 562.8 458.3 570 430.3 573.1 406.3 573.6 386.3 575.8 354.5 584.6 342.8 592.6 326.3 609.3 311.7 620.5 302.3 624.5 278.4 631.5 262.4 633.3 246.4 636.5 214.4 641.3 114.5 652.3 58.5 659.8 58.5 203.5Z"/>
<path fill="#0098ff" d="M1289.8 189.2 1301.8 188.4 1329.8 189 1361.7 192.3 1413.7 201.4 1421.7 203.6 1429.7 207 1429.7 578.8 1425.7 579.8 1417.7 580.1 1393.7 575.7 1349.7 571.9 1333.8 572.1 1317.8 569.4 1305.8 569 1285.8 565.7 1265.8 564.4 1253.8 564.6 1213.8 567.8 1193.8 566.5 1181.8 566.9 1137.9 565.5 1113.9 570.4 1093.9 569 1065.9 572 998 570.7 962 568.7 926 563.9 914 560.7 894 557.6 878 553.4 854 554.2 838 552.1 827.2 548.7 819.1 544.7 810.1 538.1 805.1 532.7 801.1 524.7 799.6 516.7 801.2 484.8 800.8 472.8 793.9 436.9 794.3 424.9 798.1 410 802.4 400.9 810.5 389 834.7 361 844 349 854 330 859.9 321.1 870 301.1 877.5 289.2 890.9 273.2 905.8 261.2 922 251.1 950 237.8 978 229.8 990 227.5 1005.9 225.6 1033.9 224.7 1065.9 226 1077.9 228.5 1093.9 235.8 1097.9 236.5 1109.9 235.5 1129.9 238.2 1141.9 238.1 1169.9 239.7 1185.8 238.4 1193.8 235.7 1198 233.3 1202.6 229.3 1211.8 217.3 1219.4 209.3 1224.3 205.3 1233.8 199.6 1239.9 197.3 1269.8 191.2ZM60.6 225.3 78.5 242.7 121.4 277.2 133.1 289.2 138.1 297.1 142.1 309.1 144.2 337.1 146.4 347.4 150.4 354.4 154.4 358 158.4 360.1 170.4 363.2 190.4 365.5 306.4 371.1 378.3 376.1 406.3 377.3 450.3 386.4 462.3 390.7 474.4 397 479.6 400.9 482.9 404.9 484.4 408.9 484.3 412.9 481.5 420.9 467.2 448.9 464.9 456.8 465.1 464.8 468.5 472.8 475 480.8 484.6 488.8 502.9 500.8 511.4 508.7 514 512.7 515.4 516.7 515.4 520.7 513.6 524.7 509.9 528.7 499.4 536.7 486.3 544.1 478.3 547.3 422.3 557.8 402.3 557.5 382.3 562.8 354.3 568.6 328.7 576.6 306.4 585.8 290.4 591.3 274.4 595.6 266.4 596 258.4 594.3 240.3 584.6 226.4 579.8 213.3 572.6 198.4 569.6 182.4 565 150.4 563.5 134.5 564.4 122.5 564.2 106.5 566 90.5 566.9 58.5 571.5 58.5 223ZM1421.7 588 1429.7 587.2 1429.7 645.9 1401.7 642.5 1394.2 640.5 1387.3 636.5 1384 632.5 1382.9 628.5 1383.3 624.5 1386.3 616.5 1391.2 608.5 1401.7 597.2 1413.7 590.5ZM62.5 589.5 174.4 609.5 190.4 611 196.3 612.5 198.8 616.5 193.3 620.5 190.4 621.5 170.4 625.9 158.4 629.5 122.5 635.7 106.5 637.5 91.7 640.5 78.5 641.7 58.5 645.1 58.5 588.9Z"/>
<path fill="#00ccff" d="M1301.8 209 1313.8 207.1 1329.8 206.9 1361.7 209.2 1413.7 217.4 1421.7 219.7 1429.7 223.8 1429.7 552.9 1325.8 552.2 1273.8 550.6 1173.8 551.2 1141.9 550.6 1129.9 552 1117.9 557 1113.9 558 1109.9 557.8 1097.9 555.3 1093.9 555.2 1081.9 558.3 1073.9 558.8 1053.9 558.6 1021.9 556.8 958 551 926 545.7 914 542.5 898 539.6 882 534.4 862 531.4 854 529.4 842 524.2 837.2 520.7 833.9 516.7 831.7 512.7 829.1 504.7 824.1 468.8 816.7 436.9 817 424.9 820.4 412.9 826.7 400.9 835.6 389 867.9 357 874.9 349 879.6 341.1 884.8 329.1 900.8 297.1 907.7 285.2 914.2 277.2 930 264 942 257.4 954 252.2 970 246.9 982 243.8 1009.9 239.8 1041.9 239.4 1057.9 240.4 1069.9 242.3 1077.9 245.1 1093.9 253.9 1097.9 254.5 1109.9 254.1 1125.9 258 1141.9 259.2 1157.9 264 1210.9 273.2 1245.8 275.8 1273.8 275.6 1281.8 274.9 1289.9 273.2 1293.8 271.4 1297.2 269.2 1299.7 265.2 1300.4 261.2 1300.1 257.2 1297.9 249.2 1293.8 240.3 1286.6 229.3 1285.1 225.3 1284.7 221.3 1286 217.3 1290.7 213.3ZM59.5 249.2 62.5 253.6 70.5 261.9 102.5 287.4 111.7 297.1 116.2 305.1 119.1 313.1 121.7 325.1 123.9 341.1 127.5 353 132.4 361 136.2 365 146.4 371.5 154.4 374.3 162.4 376 182.4 378 338.3 383.2 398.3 389.3 410.3 391.7 426.4 397 438.3 402.2 446.7 408.9 450.3 414.3 452.3 420.9 451.5 428.9 444.1 448.9 442.1 456.8 441.5 464.8 443 472.8 446.3 479.9 449.6 484.8 465.7 500.8 471.9 508.7 474.9 516.7 474.8 520.7 473.5 524.7 470.8 528.7 465.2 532.7 450.3 538.4 438.3 542 418.3 546.4 406.3 545.8 398.3 546.4 382.3 551.3 346.3 558.7 302.4 570 274.4 574.5 266.4 574.5 258.4 573.3 230.4 566.6 214.4 561.3 194.4 558.3 182.4 555.5 150.4 554 58.5 552.3 58.5 247.8Z"/>
<path fill="#16ffe1" d="M1397.7 244.6 1409.7 242.3 1417.7 243 1421.7 244.5 1425.7 248 1429.7 256.9 1429.7 541.9 1353.7 542.2 1249.8 541 1173.8 541.1 1137.9 540.1 1129.9 540.8 1113.9 546 1093.9 542.5 1081.9 545.3 1069.9 546 1019.6 540.7 982 534.8 950 527.9 922 519.9 898 511 882 502.7 875.1 496.8 869.4 488.8 847.6 444.9 844.3 436.9 842.4 428.9 842.3 420.9 844.1 412.9 849.6 400.9 855.4 393 862 386.1 896.3 357 903.9 349 908.3 341.1 914.4 321.1 921.7 301.1 927.9 289.2 934 282.7 950 274.9 958.6 269.2 966 266.3 982 261.2 994 258.9 1017.9 256.5 1049.9 257.1 1069.9 260.7 1093.9 269.6 1109.9 271.2 1125.9 274.4 1185.8 283.6 1205.8 287.5 1253.8 294.2 1301.8 302.2 1317.8 303.8 1329.8 303.5 1349.7 301 1359 297.1 1364.9 293.2 1368.7 289.2 1372.5 281.2 1372.9 273.2 1371.4 257.2 1373 253.2 1377.7 249.3 1381.7 247.8ZM60.4 285.2 78.5 298.2 90.5 310.4 99.8 325.1 113.8 357 122.4 369 131.8 377 146.4 383.7 162.4 388.1 194.4 390.9 222.4 391.6 306.4 391.2 342.3 393 374.3 397.7 401.5 404.9 410.8 408.9 416.4 412.9 419.9 416.9 422.1 420.9 423.4 428.9 421.8 436.9 415.4 452.8 413 460.8 412.7 468.8 414.2 476.8 417.8 484.8 421 488.8 438.3 503.5 442.3 508.5 443.5 512.7 443.4 516.7 441.6 520.7 437.9 524.7 434.3 526.8 422.3 530.7 414.3 532.1 402.3 532.5 394.3 533.7 378.3 538.2 354.3 543.7 306.4 557 274.4 562.3 262.4 562 246.4 559.7 210.4 552.5 178.4 548.3 58.5 542.5 58.5 283.8Z"/>
<path fill="#3cffba" d="M1013.9 284.6 1029.9 282.5 1045.9 281.7 1065.9 281.9 1085.9 283.7 1125.9 288.4 1141.9 291.3 1169.9 293.8 1205.8 300.3 1229.8 303.3 1281.8 312 1313.8 316.4 1349.7 316.9 1389.7 312.3 1417.7 306.5 1429.7 306.6 1429.7 533.2 1337.8 533.8 1189.8 532.8 1137.9 530.9 1125.9 531.9 1113.9 534.8 1093.9 531.3 1081.9 532.2 1069.9 531.8 1045.9 528.6 990 516.1 958 505.1 933.3 492.8 921.8 484.8 906 470.7 882.4 444.9 876.2 436.9 871.7 428.9 869.3 420.9 869.1 412.9 871.1 404.9 874 399.3 879.4 393 896.4 377 914 362.5 922.5 353 926.5 345.1 932 317.1 934.1 313.1 938 309 946 304.3 974 293.8 998 287.4ZM60.1 313.1 70.5 319.4 82.5 330.3 90.5 340 107 365 120.2 381 130.5 387.7 150.4 396.8 162.4 399.5 182.4 402.7 226.4 406.1 258.4 404.5 302.4 400.9 312.3 400.9 342.3 403.6 366.3 409.4 373.6 412.9 378.4 416.9 381.7 420.9 383.7 424.9 384.3 428.9 383.4 432.9 381.2 436.9 378.3 440.1 370.3 444.9 350.3 452 326.3 457.4 313.1 464.8 309.4 468.8 308.6 472.8 311.4 480.8 319.8 492.8 326.3 497.3 338.3 502.7 356.9 508.7 356.2 512.7 346.3 518.4 336.6 528.7 331.5 532.7 316.4 540.7 302.4 546 286.4 549.9 274.4 551.9 266.4 552 250.4 550.7 206.4 544 178.4 541.3 58.5 534.7 58.5 312.3Z"/>
<path fill="#66ff90" d="M1073.9 300.8 1085.9 298.8 1093.9 298.5 1109.9 301.2 1125.9 301.6 1141.9 304.4 1165.9 305.3 1201.8 311.2 1233.8 313.7 1249.8 317.1 1265.8 318.2 1277.8 321 1293.8 321.9 1309.8 324.9 1325.8 325.2 1341.8 326.8 1373.7 325.5 1397.7 322.9 1417.7 319 1429.7 319.3 1429.7 525 1337.8 526.1 1185.8 525 1133.9 522.4 1113.9 524.4 1105.9 523.5 1049.9 510.9 1018.4 500.8 989.7 488.8 966 475.6 946 461.4 922 440.8 906.5 424.9 902 417.1 900.9 412.9 900.7 408.9 903.1 400.9 910.7 389 914 385 926 374.1 933 365 939.3 353 946 329.3 950 324.3 958 319.7 990 309.5 1029.9 302.9 1057.9 302.6ZM62.5 328.9 70.5 335.3 80.3 345.1 110.5 382.8 118.5 390.8 138.5 402.6 146.4 406.3 181.4 416.9 191.9 420.9 197.8 424.9 201.9 428.9 214.4 447.9 222.4 456.8 230.4 460.7 242.4 462.8 250.4 465.5 266.4 472.3 274.4 477.4 292 492.8 301.5 504.7 303.3 508.7 304.2 516.7 301.8 524.7 298.2 528.7 285.7 536.7 274.4 540.5 266.4 541.2 250.4 540.4 202.4 534.5 58.5 527.1 58.5 326.2ZM294.4 416.9 306.4 414.1 314.4 415.2 321.8 416.9 330.3 420.9 331.4 424.9 328.6 428.9 323.1 432.9 314.4 436.5 306.4 438 298.4 438.4 290.4 437.7 282.4 435.8 277.4 432.9 276.5 428.9 279.3 424.9 285.7 420.9Z"/>
<path fill="#90ff66" d="M1085.9 312.4 1093.9 311 1109.9 313.9 1125.9 313.7 1141.9 316.3 1165.9 316 1201.8 320.5 1213.8 321.3 1229.8 320.7 1249.8 324.6 1265.8 325 1277.8 328 1293.8 328.5 1309.8 331.6 1325.8 331.6 1341.8 334 1373.7 333.4 1397.7 330.9 1417.7 327.2 1429.7 327.6 1429.7 516.7 1345.7 518.2 1293.8 517.4 1213.8 517.8 1177.8 517 1133.9 513.9 1109.9 514.2 1101.9 513 1093.9 510.6 1077.9 501.9 1045.9 487.3 1021.9 473.8 997.7 456.8 988.1 448.9 973.1 432.9 967.4 424.9 963.2 416.9 960 408.9 958.2 397 958.8 381 960.7 361 960.4 349 961.6 341.1 964.1 337.1 970 332.5 976.7 329.1 994 322.6 1013.9 321 1025.9 317 1033.9 315.5 1053.9 318.1 1065.9 317.9 1073.9 316.5ZM58.8 337.1 78.5 356.5 96 377 106.5 390.6 114.5 398.5 138.5 415.6 158.4 424.3 166.4 430.3 172.4 436.9 189.5 460.8 198.4 469.9 206.4 475.1 214.4 478.9 256.7 492.8 270.4 500.8 274.4 504.7 275.7 508.7 274.4 516.3 271.9 520.7 265.4 524.7 250.4 526.1 218.4 522.5 154.4 523.5 58.5 518.8Z"/>
<path fill="#baff3c" d="M1093.9 320.9 1097.9 320.9 1109.9 323.9 1125.9 323.6 1141.9 325.9 1165.9 324.9 1197.8 328.1 1233.8 327.5 1245.8 330.4 1265.8 331 1277.8 333.9 1297.8 334.9 1309.8 337.3 1329.8 337.7 1341.8 340.2 1361.7 339.5 1373.7 340.1 1401.7 337 1417.7 334 1429.7 334.3 1429.7 508 1365.7 509.9 1337.8 509.8 1297.8 508.4 1209.8 510 1181.8 509.1 1133.9 505.3 1109.9 504.4 1101.9 503 1096.1 500.8 1085.9 493.5 1052.3 472.8 1037.9 462.9 1016.5 444.9 1006 432.9 998.4 420.9 994.1 408.9 987.5 365 986.4 353 987 349 989.5 345.1 994 341.5 998 339.8 1013.9 336.2 1029.9 326.9 1033.9 325.9 1037.9 326.3 1049.9 330.7 1061.9 331 1073.9 328.9 1085.9 323.3ZM60.6 349 89.9 381 101.2 397 122.5 421.5 145 444.9 160.5 464.8 182.7 488.8 185.8 492.8 187.5 496.8 186.4 500.8 180.3 504.7 174.4 506.9 168.6 508.7 158.4 510.3 126.5 511.9 58.5 509.5 58.5 346.9Z"/>
<path fill="#e4ff13" d="M1089.9 331.5 1097.9 329.2 1105.9 332.2 1109.9 332.9 1125.9 331.9 1141.9 333.8 1153.9 332.8 1177.8 332.7 1197.8 335.3 1213.8 334.2 1225.8 335.1 1233.8 334.5 1257.8 338.1 1269.8 338.3 1289.8 341.9 1325.8 343.1 1337.8 345.4 1345.7 346.1 1377.7 346.4 1417.7 340.6 1425.7 340.4 1429.7 341.1 1429.7 498.1 1397.7 499.9 1365.7 500.6 1297.8 498 1225.8 501.3 1205.8 501.5 1173.8 499.9 1113.9 494.6 1105.9 493.5 1097.9 490.8 1072.1 472.8 1052.7 456.8 1044.9 448.9 1035.8 436.9 1028.8 424.9 1024.7 412.9 1023.2 400.9 1022.8 369 1025.9 357.4 1029.9 351 1033.9 348 1037.9 346.9 1053.9 346.4 1069.9 342.4 1077.9 339.1ZM58.6 357 84 385 105.1 416.9 108.7 424.9 117 448.9 128.2 476.8 129.3 480.8 129.3 484.8 126.5 489.3 118.5 492.5 110.5 493.8 83.5 496.8 58.5 498.5Z"/>
<path fill="#ffde00" d="M1121.9 340.7 1125.9 340.3 1141.9 341.3 1177.8 339.7 1185.8 340.4 1193.8 342.2 1213.8 341.1 1225.8 344.1 1233.8 342.2 1241.8 341.5 1249.8 343 1257.8 346.1 1269.8 345.1 1277.8 345.3 1289.8 350.4 1313.8 348.5 1325.8 349.4 1349.7 352.8 1373.7 353.6 1385.7 352.8 1417.7 347.7 1425.7 347.7 1429.7 348.9 1429.7 484.9 1397.7 487.5 1365.7 488.6 1345.7 488.1 1309.8 485.7 1293.8 485.7 1261.8 488 1229.8 491.4 1201.8 492.1 1169.9 490.2 1137.9 487 1105.9 482.4 1097.9 480.1 1089.9 475.1 1082.4 468.8 1067.4 452.8 1061.1 444.9 1057.3 436.9 1054.5 424.9 1054.1 412.9 1055.3 400.9 1059.7 385 1065.1 373 1071.2 365 1085.9 351.1 1093.9 344.7 1097.9 343.6 1109.9 343.1ZM60.3 369 74.3 385 82.8 397 92.3 416.9 94.5 424.9 94.8 428.9 94 436.9 91.6 444.9 80.9 464.8 74 472.8 68 476.8 58.5 480.7 58.5 367.1Z"/>
<path fill="#ffae00" d="M1161.9 348.9 1181.8 348 1193.8 349.5 1209.8 349.5 1221.8 351.8 1241.8 347.9 1245.8 348.4 1257.8 352.5 1273.8 352.3 1289.8 357.6 1293.8 357.7 1305.8 355.9 1313.8 355.9 1349.7 361.8 1365.7 363.1 1385.7 362.4 1413.7 356.9 1421.7 356.6 1425.7 357.4 1429.7 359.4 1429.7 429.7 1422.7 424.9 1414.2 420.9 1397.7 415.3 1369.7 414.4 1354.3 416.9 1341 420.9 1333.8 424.9 1326.4 432.9 1325.2 436.9 1326.9 440.9 1329.8 443.6 1347.7 456.8 1349.8 460.8 1345.7 464 1341.8 465.1 1325.8 464.1 1293.8 466.5 1229.8 480.5 1197.8 481.8 1161.9 479.1 1129.9 474.8 1113.9 469.8 1101.9 468.1 1097.9 466.6 1091.6 460.8 1086.1 452.8 1080.8 440.9 1079.5 432.9 1080 424.9 1083.5 408.9 1095.3 369 1097.9 364.7 1102.5 361 1117.9 355.4 1129.9 352.5ZM60.4 381 68.4 393 74.5 404.4 76 408.9 76.6 416.9 74.5 424.9 70.5 430.2 66.5 433.4 58.5 436.8 58.5 378.7Z"/>
<path fill="#ff7e00" d="M1233.8 356.6 1241.8 355.3 1257.8 359.7 1270.9 361 1285.8 366.1 1313.6 369 1323.3 373 1329.7 377 1333.2 381 1332.8 385 1329.1 389 1317.8 395.4 1270.9 412.9 1265.8 416.2 1261.4 420.9 1256.7 428.9 1254.6 436.9 1253.9 448.9 1252.2 452.8 1248.5 456.8 1241.9 460.8 1229.8 466.2 1221.8 467.7 1197.8 468.8 1181.8 466.5 1160.6 464.8 1140.6 460.8 1133.9 458.2 1125.6 452.8 1116.6 444.9 1114.8 440.9 1114.8 436.9 1117.9 430.2 1121.9 426.1 1137.6 416.9 1142.3 412.9 1145.3 408.9 1145.8 404.9 1142.1 393 1141.9 385 1144.7 377 1147.4 373 1151.7 369 1158.4 365 1173.8 360.1 1201.8 358.4 1221.8 359.7ZM1405.7 372.2 1417.7 370.1 1425.7 372.3 1429.7 375.4 1429.7 402.5 1413.7 401.2 1396.4 397 1388.4 393 1384.8 389 1384.3 385 1387.4 381 1393.9 377Z"/>
<path fill="#ff4e00" d="M1233.8 368.7 1241.8 368.2 1245.9 369 1255.5 373 1261.4 377 1262.8 381 1260.5 385 1255.1 389 1229.8 403.7 1221.8 406.2 1217.8 406.4 1213.8 405.5 1209.8 403.5 1202.9 397 1197.5 389 1196.5 385 1197.8 381 1204.7 377Z"/>
</g>
<use href="#coast" transform="translate(58.5 113.5)" fill="none" stroke="#000" stroke-width="4.2" stroke-linejoin="round" stroke-linecap="round"/>
</g>
<rect x="58.5" y="113.5" width="1371.2" height="674.7" fill="none" stroke="#000" stroke-width="3.3"/>
<g shape-rendering="crispEdges">
<rect x="58.50" y="831.8" width="69.06" height="67.4" fill="#00009b"/>
<rect x="127.06" y="831.8" width="69.06" height="67.4" fill="#0000d6"/>
<rect x="195.62" y="831.8" width="69.06" height="67.4" fill="#0000ff"/>
<rect x="264.18" y="831.8" width="69.06" height="67.4" fill="#0030ff"/>
<rect x="332.74" y="831.8" width="69.06" height="67.4" fill="#0064ff"/>
<rect x="401.30" y="831.8" width="69.06" height="67.4" fill="#0098ff"/>
<rect x="469.86" y="831.8" width="69.06" height="67.4" fill="#00ccff"/>
<rect x="538.42" y="831.8" width="69.06" height="67.4" fill="#16ffe1"/>
<rect x="606.98" y="831.8" width="69.06" height="67.4" fill="#3cffba"/>
<rect x="675.54" y="831.8" width="69.06" height="67.4" fill="#66ff90"/>
<rect x="744.10" y="831.8" width="69.06" height="67.4" fill="#90ff66"/>
<rect x="812.66" y="831.8" width="69.06" height="67.4" fill="#baff3c"/>
<rect x="881.22" y="831.8" width="69.06" height="67.4" fill="#e4ff13"/>
<rect x="949.78" y="831.8" width="69.06" height="67.4" fill="#ffde00"/>
<rect x="1018.34" y="831.8" width="69.06" height="67.4" fill="#ffae00"/>
<rect x="1086.90" y="831.8" width="69.06" height="67.4" fill="#ff7e00"/>
<rect x="1155.46" y="831.8" width="69.06" height="67.4" fill="#ff4e00"/>
<rect x="1224.02" y="831.8" width="69.06" height="67.4" fill="#ff1e00"/>
<rect x="1292.58" y="831.8" width="69.06" height="67.4" fill="#d60000"/>
<rect x="1361.14" y="831.8" width="68.56" height="67.4" fill="#9b0000"/>
</g>
<rect x="58.5" y="831.8" width="1371.2" height="67.4" fill="none" stroke="#000" stroke-width="3.3"/>
<line x1="58.5" y1="899.2" x2="58.5" y2="915.5" stroke="#000" stroke-width="3.3"/>
<text x="58.5" y="961.7" font-size="44.6" text-anchor="middle" textLength="26.5" lengthAdjust="spacingAndGlyphs">0</text>
<line x1="264.2" y1="899.2" x2="264.2" y2="915.5" stroke="#000" stroke-width="3.3"/>
<text x="264.2" y="961.7" font-size="44.6" text-anchor="middle" textLength="53.0" lengthAdjust="spacingAndGlyphs">15</text>
<line x1="469.9" y1="899.2" x2="469.9" y2="915.5" stroke="#000" stroke-width="3.3"/>
<text x="469.9" y="961.7" font-size="44.6" text-anchor="middle" textLength="53.0" lengthAdjust="spacingAndGlyphs">30</text>
<line x1="675.5" y1="899.2" x2="675.5" y2="915.5" stroke="#000" stroke-width="3.3"/>
<text x="675.5" y="961.7" font-size="44.6" text-anchor="middle" textLength="53.0" lengthAdjust="spacingAndGlyphs">45</text>
<line x1="881.2" y1="899.2" x2="881.2" y2="915.5" stroke="#000" stroke-width="3.3"/>
<text x="881.2" y="961.7" font-size="44.6" text-anchor="middle" textLength="53.0" lengthAdjust="spacingAndGlyphs">60</text>
<line x1="1086.9" y1="899.2" x2="1086.9" y2="915.5" stroke="#000" stroke-width="3.3"/>
<text x="1086.9" y="961.7" font-size="44.6" text-anchor="middle" textLength="53.0" lengthAdjust="spacingAndGlyphs">75</text>
<line x1="1292.6" y1="899.2" x2="1292.6" y2="915.5" stroke="#000" stroke-width="3.3"/>
<text x="1292.6" y="961.7" font-size="44.6" text-anchor="middle" textLength="53.0" lengthAdjust="spacingAndGlyphs">90</text>
<text x="257.0" y="88.3" font-size="51.5" textLength="968.5" lengthAdjust="spacingAndGlyphs" xml:space="preserve">Combined (GIM), 2026-03-21 06:00 UT</text>
<g clip-path="url(#c1)">
<g shape-rendering="crispEdges">
<rect x="57.5" y="1097.5" width="1373.2" height="676.7" fill="#00009b"/>
<path fill="#0000d6" d="M62.5 1098.5 1429.7 1098.5 1429.7 1110.3 1381.7 1107 1337.8 1107.6 1293.8 1103.9 1285.8 1104.8 1269.8 1109.3 1257.8 1110.5 1245.8 1109.2 1225.8 1103.1 1217.8 1102.2 1211.7 1102.5 1205.8 1103.7 1198.1 1106.5 1192.6 1110.5 1193 1114.5 1193.8 1114.7 1213.8 1117.3 1229.8 1118.3 1245.8 1121.4 1261.8 1123.3 1281.8 1130.4 1297.8 1134.1 1321.8 1135.6 1369.7 1142.8 1397.7 1146.1 1417.7 1146.5 1429.7 1148.6 1429.7 1773.2 976.4 1773.2 988.8 1761.2 998 1756.2 1017.9 1750.7 1045.9 1746 1057.9 1743.3 1065.9 1741.1 1073.4 1737.3 1075 1733.3 1075 1725.3 1075.9 1717.3 1077.9 1712.2 1081.9 1706.2 1085.9 1702.6 1093.9 1698.8 1101.9 1698.5 1105.9 1699.7 1113.9 1705.3 1119.9 1713.3 1125.9 1728.3 1129.9 1730.8 1133.9 1731.5 1145.9 1729.8 1170 1721.3 1177.8 1716.4 1180.3 1713.3 1180.8 1709.3 1176.9 1705.3 1157.9 1697.4 1141.9 1694.1 1117.9 1686.7 1101.9 1685.1 1081.9 1679.7 1053.9 1675.2 1037.9 1674.2 1013.9 1674.7 1001.9 1676 974 1681.4 926 1692.6 882 1700.2 850 1704 842 1703.9 834 1702.7 818.1 1696.8 813.5 1693.4 811.6 1689.4 811.2 1681.4 814 1653.4 812.4 1645.4 810.1 1642.1 803.2 1637.5 794.1 1633.7 778.1 1630.3 746.1 1630 714.1 1634 706.1 1635.7 690.1 1643.3 686.1 1644.3 682.1 1643.1 673.4 1637.5 666.1 1635.7 642.2 1632.7 618.2 1631.3 602.2 1629.4 594.2 1630.7 578.2 1636.4 550.2 1642.1 502.2 1646 482.3 1648.8 466.3 1650.2 450.3 1653.4 434.3 1654.2 414.3 1657.3 406.4 1661.4 404.2 1665.4 403.2 1669.4 403.3 1673.4 406.2 1681.4 410.3 1685 414.3 1686.5 422.3 1686.8 470.3 1678.1 482.3 1677.5 518.2 1683.9 542.2 1684.2 562.2 1689.4 570.2 1692.7 574.8 1697.3 575.6 1701.3 572.3 1733.3 570.2 1738.5 566.2 1740.9 558.2 1742.2 542.2 1742.7 510.2 1735.8 498.2 1734.7 482.3 1734.6 474.3 1733.6 444 1725.3 422.3 1718.2 394.3 1711.8 346.3 1710.1 306.4 1706.2 278.4 1706.1 262.4 1704.3 258.4 1702.9 254.4 1700.2 250.4 1696.1 242.4 1685.4 238.4 1681.4 232.6 1677.4 205.2 1665.4 194.2 1661.4 182.4 1658.5 154.4 1657 122.5 1659.4 88.2 1665.4 63.7 1673.4 58.5 1676.7 58.5 1155.8 70.5 1161 78.5 1162.9 114.5 1162.4 130.5 1161.3 142.5 1159.5 150.4 1157 154.6 1154.4 156.6 1150.4 156.7 1146.4 155.5 1142.4 150.5 1134.4 142.5 1127.6 134.5 1123.8 110.5 1117.3 90.5 1116.6 58.5 1113.2 58.5 1098.5ZM395.9 1134.4 390.3 1136.1 378.3 1143.9 370.3 1147.8 362.3 1150.3 346.3 1153.8 338.3 1157.1 331.6 1162.4 329.9 1166.4 330.6 1170.4 334.3 1175 342.3 1178.6 390.3 1186.9 414.3 1185.7 442.3 1178.8 466.3 1177.1 478.3 1175.2 486.3 1175.3 502.2 1178.7 526.2 1180.5 550.2 1179.3 566.2 1179.6 574.2 1182.2 578.2 1185.1 582.6 1190.3 584 1194.3 584.8 1202.3 584.2 1210.3 583.2 1214.3 580.8 1218.3 576.6 1222.3 566.2 1228 558.2 1230.8 526.2 1237.4 486.3 1240.9 446.3 1238.4 402.3 1239.4 385.3 1238.2 366.3 1234.3 350.3 1233.8 338.3 1232.1 330.3 1232 302.4 1238.4 289.3 1242.2 283.2 1246.2 280.3 1250.2 280.2 1254.2 285.1 1258.2 302.4 1263.6 306.4 1265.9 330.3 1285.6 334.3 1288.2 342.3 1291.6 362.3 1296 382.3 1297.5 406.3 1302.4 414.3 1302.6 430.3 1301.2 454.3 1302.3 502.2 1311.6 518.2 1315.5 538.2 1322.5 570.2 1331.7 602.2 1338.5 615 1342 636.7 1350 651.3 1358 655.8 1362 657.8 1366 658.1 1370 656.6 1378 649.3 1397.9 649.4 1405.9 651.6 1409.9 658.2 1416 678.1 1428.9 688.1 1433.9 693.8 1437.8 696 1441.8 697 1445.8 697.1 1453.8 696 1457.8 693.6 1461.8 689.3 1465.8 682.1 1469.8 674.1 1472.1 654.2 1474.9 634.2 1479.6 630.2 1481.3 624.1 1485.8 618.3 1493.7 612.3 1505.7 602.1 1533.7 601.3 1541.6 602.2 1551.2 606.2 1557.3 610.2 1558.7 614.2 1558.5 622.2 1556.4 642.2 1549.7 646.2 1550 656.4 1553.6 663.8 1557.6 671.7 1565.6 675.8 1573.6 676.7 1577.6 677.1 1589.6 678.3 1593.5 682.1 1599 690.1 1605.9 698.1 1610.8 706.1 1612.7 718.1 1611.9 726.1 1609.7 730.1 1607.7 734.1 1604.1 738.1 1597.9 742.1 1586.2 743.9 1573.6 743.3 1569.6 739.7 1565.6 730.1 1561.5 725.2 1557.6 723.7 1553.6 724.1 1545.6 726.5 1537.7 730.9 1529.7 739.9 1517.7 752.9 1505.7 754.1 1502.6 754.8 1481.8 754.3 1465.8 750.9 1441.8 747 1429.9 731.5 1409.9 716.3 1385.9 713.6 1378 713.5 1370 714.8 1366 717.7 1362 722.2 1358 761 1330.1 763.9 1326.1 766.2 1318.1 765.5 1310.1 763.2 1302.1 747.9 1266.2 746.1 1250.2 746.8 1218.3 744.6 1210.3 742.1 1205.5 735.4 1198.3 726.1 1192.3 686.1 1175.3 638.2 1147.4 630.2 1144.2 610.2 1139.4 598.2 1137.7 574.2 1136.6 558.2 1134.7 498.2 1131.4 462.3 1132.1 438.4 1134.4 426.3 1137.5 422.3 1137.7 406.3 1134.1ZM678.1 1670.7 682.1 1670.2 686.1 1673.6 698.5 1693.4 705 1701.3 718.1 1714.9 721.6 1721.3 721.6 1725.3 718.1 1729.7 711 1733.3 706.1 1734.5 690.1 1735.3 674.1 1737.7 646.2 1739.2 642.2 1738.2 640.9 1737.3 639.7 1733.3 641.2 1717.3 641.1 1705.3 641.9 1701.3 646.2 1696.3 661.1 1685.4ZM60 1705.3 66.5 1709.6 74.5 1712.7 98.5 1716.4 118.5 1722.1 126.1 1725.3 130.5 1728.9 134.5 1733.9 138.3 1741.3 140.8 1753.2 140.6 1761.2 139.4 1765.2 134.5 1772.6 133.8 1773.2 58.5 1773.2 58.5 1704.1Z"/>
<path fill="#0000ff" d="M1193.8 1150.1 1221.8 1147.2 1253.8 1147.8 1313.8 1153.6 1393.7 1163.5 1413.7 1164.6 1421.7 1166 1429.7 1168.3 1429.7 1660.6 1381.7 1673.6 1369.7 1675.7 1353.7 1679.7 1337.8 1681.4 1321.8 1684.4 1293.8 1685.5 1277.8 1684.4 1261.8 1684.6 1245.8 1682.5 1229.8 1681.5 1173.8 1671.4 1133.9 1660.9 1113.9 1656.9 1096.1 1649.4 1077.9 1635.8 1065.9 1628.3 1057.9 1624.9 1049.9 1622.6 930 1603.3 906 1600.6 874 1599 842 1593.7 830 1590.9 818.1 1586.8 810.1 1582.6 803.5 1577.6 799.6 1573.6 794 1565.6 780.6 1537.7 779.9 1533.7 780.2 1529.7 782.7 1517.7 783 1509.7 778.9 1477.8 777.8 1449.8 773.9 1433.9 760.4 1397.9 758.7 1389.9 758.3 1382 760.8 1370 765.5 1362 798.1 1334.1 802.2 1326.1 803.1 1318.1 801.9 1310.1 796.3 1294.1 789.4 1278.2 787.4 1270.2 786.8 1262.2 787.8 1250.2 790.1 1242.9 795 1234.2 801.4 1226.3 814.8 1214.3 870 1177.1 882 1170.4 894 1167.2 938 1159.9 954 1159 974 1160.5 998 1166.6 1009.9 1168.1 1081.9 1167.7 1105.9 1165.9 1129.9 1162.7 1161.9 1155.5ZM58.7 1182.3 66.5 1189.2 74.5 1192.8 106.5 1198.3 118.5 1202.1 127.2 1206.3 138.8 1214.3 152.5 1226.3 162.4 1237.1 170.4 1248 176.3 1258.2 179.6 1266.2 181.6 1274.2 181.2 1282.1 176.7 1294.1 171.7 1302.1 156.9 1318.1 154.4 1322.5 153.3 1330.1 154.4 1335.2 158.4 1341.2 166.4 1346.4 174.4 1348.8 182.4 1350.1 206.4 1350.3 226.4 1349 278.4 1342.8 302.4 1341.6 318.3 1342.8 350.3 1347.8 370.3 1347.4 378.3 1346.4 386.3 1344.3 406.3 1334.1 438.3 1324 442.3 1324.3 446.3 1325.8 462.3 1336.6 470.3 1340.2 486.3 1345.1 506.2 1348 518.2 1350.8 530.2 1355.6 540.6 1362 544.8 1366 547.3 1370 549.5 1378 548.9 1385.9 547.7 1389.9 543.1 1397.9 538.2 1403.2 529.2 1409.9 514.2 1418.9 494.2 1428.6 486.4 1433.9 482.3 1438.2 480.3 1441.8 479.7 1445.8 481 1449.8 484 1453.8 494.2 1462.3 501.4 1465.8 518.2 1470.4 534.2 1476.1 542.2 1479.9 550 1485.8 554.6 1493.7 556.6 1505.7 555 1521.7 551.9 1529.7 547.4 1533.7 538.2 1537.5 526.2 1544.8 510.2 1549.2 494.2 1556.4 478.3 1558.4 466.3 1563.6 462.3 1564.3 450.3 1563.9 438.3 1567.2 430.3 1567.9 414.3 1563.8 398.3 1563.7 386.3 1561.3 378.3 1561.2 361 1565.6 354.3 1568.2 351.7 1569.6 347.8 1573.6 345.5 1577.6 344.5 1581.6 344.6 1585.6 346.3 1590.8 350.3 1596.9 354.3 1601.3 358.3 1604.4 362.3 1605.8 366.3 1606.1 370.3 1605.1 386.6 1597.5 410.3 1589.7 438.3 1585.7 442.3 1586.4 450.4 1589.6 454.8 1593.5 456 1597.5 454.6 1601.5 447 1609.5 441.5 1613.5 430.3 1617.5 414.3 1620.5 406.3 1620.8 382.3 1619.4 366.3 1616.8 362.3 1617.3 334.3 1627.8 306.4 1639.4 294.4 1642.7 278.4 1645.4 266.4 1646.1 242.4 1645.7 186.4 1642.1 158.4 1642.3 114.5 1646.4 58.5 1655.9ZM1301.8 1725.1 1317.8 1722.8 1329.8 1722.3 1373.7 1726.8 1381.7 1728.6 1385.7 1730.4 1390.7 1733.3 1393.7 1737.3 1392 1741.3 1385.3 1745.3 1377.7 1747.6 1345.7 1753 1317.8 1754.7 1285.8 1753.5 1269.8 1751.1 1253.8 1749.9 1236.6 1745.3 1234.7 1741.3 1239.7 1737.3 1249.8 1734 1273.8 1730.8Z"/>
<path fill="#0030ff" d="M1245.8 1162.3 1273.8 1162.4 1321.8 1166.3 1389.7 1174.5 1413.7 1176.4 1421.7 1177.8 1429.7 1180.7 1429.7 1643.1 1385.7 1648.2 1337.8 1655.5 1305.8 1658.3 1289.8 1658.2 1273.8 1659.2 1245.8 1658.7 1213.8 1655 1181.8 1648.2 1161.4 1637.5 1157.9 1634.2 1155.7 1629.5 1155.8 1625.5 1157.9 1620.7 1161.9 1616.9 1176.3 1609.5 1181.4 1605.5 1175.2 1601.5 1169.9 1599.7 1158 1593.5 1153.9 1592.3 1125.9 1585.7 1105.9 1583.3 1078.1 1577.6 1061.9 1575.5 1037.9 1574.3 994 1575.8 974 1575.2 962 1574.6 934 1571.3 910 1567.2 902 1567 890 1568.5 882 1568.2 878 1567.2 862 1559.6 838 1552.7 826.1 1551.2 822.1 1549.7 818.1 1546.3 806.1 1529.4 801.2 1517.7 797 1481.8 796.4 1457.8 795.2 1445.8 792.2 1433.9 782.8 1405.9 780.6 1393.9 780.5 1385.9 782 1378 783.6 1374 788.4 1366 798.8 1354 816.4 1338 828.1 1326.1 843.3 1306.1 845.4 1302.1 846.2 1298.1 845.8 1294.1 842.9 1286.1 836.6 1274.2 835.2 1270.2 834.2 1262.2 835.1 1254.2 838.1 1246.2 842 1240.5 848 1234.2 870 1216.8 890 1204.5 914 1193 938 1183.7 950 1180.6 958 1179.9 970 1180.5 998 1187.3 1005.9 1188.3 1045.9 1189.2 1097.9 1193.2 1121.9 1193.6 1137.9 1191.6 1161.9 1185.1 1181.8 1176.5 1211.8 1166.4 1229.8 1163.4ZM1238.3 1593.5 1212 1601.5 1213.8 1603.9 1217.8 1605.6 1233.8 1606.5 1253.8 1605.3 1261.8 1604.1 1265.8 1602.2 1269.5 1597.5 1268.1 1593.5 1261.8 1591 1257.8 1590.5 1249.8 1590.7ZM60.7 1202.3 66 1206.3 70.5 1208.4 94.5 1216.5 106.5 1222.8 116.1 1230.2 126.5 1239.7 135.6 1250.2 144.5 1262.2 148.7 1270.2 151 1278.2 151 1290.1 146.9 1302.1 135.5 1318.1 134.1 1322.1 133.4 1330.1 136.7 1342 141.4 1350 150 1358 157.7 1362 174.4 1366.6 202.4 1368.3 230.4 1367 282.4 1359.5 302.4 1357.9 314.4 1357.9 334.3 1359.9 354.3 1363.3 370.3 1365 386.3 1370 398.3 1370.8 402.3 1371.8 414.3 1377.1 418.3 1378 446.3 1376.4 489.3 1382 491.9 1385.9 488.2 1389.9 466.3 1407.1 458.3 1415.7 454.3 1421.3 449.6 1429.9 446.6 1437.8 445.5 1445.8 446.1 1449.8 447.9 1453.8 451.2 1457.8 461 1465.8 474.3 1474.6 498.2 1487.2 506.4 1493.7 510.2 1499.3 512.5 1505.7 512.4 1509.7 511 1513.7 508.3 1517.7 500.2 1525.7 494.2 1529.9 486.3 1533.7 466.3 1540.5 434.3 1544.6 418.3 1542 402.3 1543.4 386.3 1542.1 378.3 1542.6 354.3 1547.5 330.3 1555.2 300 1569.6 293.7 1573.6 289.4 1577.6 286.7 1581.6 283 1593.5 278.4 1602 271.4 1609.5 263 1613.5 242.4 1618.1 226.4 1619.5 210.4 1622 194.4 1622.9 178.4 1625.3 166.4 1626 147.9 1629.5 58.5 1642.3 58.5 1200.2ZM120.7 1545.6 96 1549.6 87.6 1553.6 87 1557.6 91.9 1561.6 110.7 1569.6 146.4 1578.6 190.4 1586.7 218.4 1587.6 226.4 1586.6 238.4 1581.5 242.9 1577.6 244 1573.6 242.8 1569.6 236.2 1561.6 224.6 1553.6 216.6 1549.6 210.4 1547.7 174.4 1543.6 142.5 1543.4Z"/>
<path fill="#0064ff" d="M1253.8 1178.1 1265.8 1176.6 1293.8 1176.1 1332.9 1178.3 1389.7 1185.6 1413.7 1187.6 1421.7 1189.3 1429.7 1193.4 1429.7 1540.8 1417.7 1543.4 1409.7 1544 1401.7 1543.4 1385.7 1540.5 1353.7 1541.1 1349.7 1542 1337.8 1547.3 1325.8 1548.8 1277.8 1544.9 1269.8 1544.8 1245.8 1546.4 1225.8 1550.7 1193.8 1553.7 1177.8 1551.7 1161.9 1551.1 1145.9 1549.3 1113.9 1550.1 1081.9 1546.9 1049.9 1545.8 1029.9 1547.5 1013.9 1547.7 998 1549.4 966 1549.2 946 1546.1 934 1545.7 918 1542.1 914 1541.9 894 1547.6 886 1549 882 1548.5 870 1543.4 851.3 1537.7 846 1535.3 831.2 1525.7 823.5 1517.7 819.7 1509.7 817.9 1501.7 816.4 1485.8 815.2 1457.8 813.5 1445.8 810.6 1433.9 802.6 1409.9 799.9 1397.9 799.4 1389.9 800.3 1382 805.5 1370 811.3 1362 818.1 1354.8 830 1346.7 842 1341.9 849.1 1338 853.4 1334 862.2 1322.1 866 1318.7 879.4 1310.1 881.9 1306.1 883.4 1298.1 883 1290.1 879.8 1266.2 880.1 1258.2 881.9 1250.2 886 1242.2 892 1234.2 904.7 1222.3 922.9 1210.3 938 1201.9 950 1197 962 1195 974 1196.6 998 1202.4 1005.9 1203.2 1029.9 1203.4 1045.9 1204.4 1125.9 1217.5 1149.9 1219.5 1169.9 1218.5 1181.8 1215.8 1193.8 1210.3 1218.3 1190.3 1229.8 1183.6 1237.8 1181ZM58.7 1214.3 66.5 1219.4 88.7 1230.2 98.5 1236.7 111.8 1250.2 123.3 1266.2 128.3 1278.2 129.3 1290.1 126.2 1302.1 118.8 1314.1 117.1 1318.1 116.2 1322.1 115.9 1330.1 117.9 1338 123.7 1350 129.3 1358 138.1 1366 150.4 1372.4 166.4 1377.8 202.4 1382.3 214.4 1381.2 230.4 1381.3 246.4 1377.5 262.4 1375.3 274.4 1371.8 286.4 1369.7 306.4 1367.7 322.3 1368.2 366.3 1374.8 373.4 1378 382.3 1383.7 398.3 1388.4 410.3 1396 421.4 1401.9 424.4 1405.9 425.6 1409.9 425.8 1413.9 424 1421.9 422.2 1425.9 411.6 1441.8 409.9 1445.8 409.6 1449.8 411.3 1453.8 414.5 1457.8 423.8 1465.8 451.9 1481.8 463.1 1489.7 472.4 1497.7 475.3 1501.7 476.5 1505.7 476 1509.7 474.1 1513.7 470.6 1517.7 465 1521.7 453.5 1525.7 442.3 1527.4 434.3 1527.6 414.3 1524.7 398.3 1527.7 382.3 1527.4 350.3 1533.9 338.3 1538.4 322.3 1542.5 314.4 1546.4 306.4 1549.1 274.4 1552.9 262.4 1551.3 238.4 1544.9 216.1 1537.7 174.4 1533.4 126.5 1532.4 94.5 1533.1 58.5 1536ZM62.5 1583.3 94.5 1589.3 121.6 1597.5 129.2 1601.5 131.3 1605.5 130.4 1609.5 123.8 1613.5 94.5 1621.5 58.5 1625.6 58.5 1583ZM1421.7 1588.8 1429.7 1585.6 1429.7 1623 1424 1621.5 1414.8 1617.5 1408.8 1613.5 1405.4 1609.5 1404.4 1605.5 1405.6 1601.5 1408.7 1597.5 1413.5 1593.5Z"/>
<path fill="#0098ff" d="M1301.8 1194.3 1333.8 1192.7 1365.7 1194.9 1389.7 1198.6 1413.7 1200.2 1421.7 1202.3 1429.7 1207.4 1429.7 1528.5 1409.7 1528.9 1349.7 1525.1 1325.8 1525.5 1277.8 1524.3 1245.8 1525.2 1201.8 1528.1 1141.9 1528.4 1093.9 1526.9 1057.9 1528.6 1041.9 1528.6 1025.9 1529.8 1009.9 1529.6 994 1530.9 982 1530.2 966 1530.5 950 1527.9 938 1527.3 922 1522.5 918 1522 898 1524.5 890 1524.3 882 1522.9 870 1519 862 1515.3 854 1509.8 850.3 1505.7 848 1501.7 845.1 1493.7 840.7 1465.8 837.1 1449.8 820.8 1401.9 819.4 1389.9 821.7 1378 826 1370 829.1 1366 838 1358 858 1348.2 874 1335.7 888.4 1330.1 893.6 1326.1 898 1321.1 904.8 1310.1 909.3 1298.1 911.1 1290.1 914.9 1262.2 920.3 1246.2 925 1238.2 931.5 1230.2 944.8 1218.3 954 1213.4 958 1212.2 966 1211.6 1001.9 1218 1033.9 1217.5 1049.9 1219.4 1073.9 1224.3 1129.9 1239 1149.9 1245 1165.9 1247.3 1181.8 1252.1 1197.8 1253.5 1212.7 1258.2 1229.8 1259.5 1233.8 1261.3 1245.8 1269.8 1253.8 1274.1 1285.8 1283.2 1333.8 1292.1 1353.7 1292.1 1362.8 1290.1 1367 1286.1 1367.9 1282.1 1366.4 1278.2 1362.6 1274.2 1353.7 1268.8 1333.8 1260.9 1313.8 1248.8 1305.8 1241.1 1284.7 1214.3 1282.2 1210.3 1280.9 1206.3 1282.1 1202.3 1287.8 1198.3ZM62.5 1230 86.5 1246.7 96.1 1258.2 103.6 1270.2 106.2 1278.2 106.9 1290.1 100.8 1318.1 100.2 1326.1 101.2 1334 104.7 1342 111.9 1354 117.9 1362 126.5 1370.4 138.5 1377.9 154.4 1384.7 194.4 1394.9 202.4 1396 214.4 1395.4 230.4 1396.1 246.4 1390.6 262.4 1386.9 278.4 1381 290.4 1378.1 302.4 1376.4 318.3 1376.1 330.3 1377.2 362.3 1384.3 366.3 1385.9 378.3 1395.8 387.5 1401.9 390.3 1405.1 392 1409.9 391.6 1413.9 390 1417.9 382.7 1425.9 374.3 1431.4 347.3 1441.8 330.7 1449.8 326.6 1453.8 325.1 1457.8 325.1 1461.8 326.6 1465.8 329.3 1469.8 334.3 1474.1 342.3 1478.3 350.3 1480.9 370.3 1483.9 402.3 1485.6 414.3 1489.1 422.8 1493.7 426.4 1497.7 426.9 1501.7 422.3 1504.8 410.3 1507.2 398.3 1510.7 382.3 1510.7 374.3 1512 366.3 1514.8 346.3 1519.9 334.3 1525.3 318.3 1530.9 306.4 1536.6 274.4 1541.9 266.4 1541.3 238.4 1535.4 222.4 1531.2 170.4 1525.4 130.5 1524.3 98.5 1524.6 58.5 1526.1 58.5 1226.9Z"/>
<path fill="#00ccff" d="M1409.7 1217.9 1417.7 1218.6 1421.7 1220 1425.7 1222.3 1429.7 1226.6 1429.7 1269.7 1417.7 1267.2 1397.7 1258.9 1389.9 1254.2 1373.2 1242.2 1368.5 1238.2 1365.7 1234.2 1364.7 1230.2 1365.7 1227.3 1366.4 1226.3 1369.7 1224.5 1377.7 1222.7 1393.7 1221.2ZM962 1235.9 970 1234.7 990 1237.7 1001.9 1238.6 1033.9 1235.1 1058.3 1238.2 1065.9 1239.8 1113.9 1254.8 1137.9 1260.3 1161.9 1264.6 1177.8 1270.2 1197.8 1271.3 1209.8 1275.8 1225.8 1275.6 1229.8 1276.4 1233.8 1278.4 1245.8 1287.2 1253.3 1290.1 1269.7 1294.1 1297.8 1299.7 1317.8 1301.4 1333.8 1304.8 1357.7 1305.3 1369.7 1304 1397.2 1298.1 1413.7 1291.3 1429.7 1287.8 1429.7 1517.9 1409.7 1517.9 1305.8 1513.6 1277.8 1514 1205.8 1517.5 1169.9 1518.1 1141.9 1517.7 1101.9 1515.9 1041.9 1508.2 1021.9 1504.1 994 1495.8 950 1474.5 942 1473.8 914 1474.9 906 1474.5 898 1472.6 890 1468.8 882 1463.3 874 1455.4 862 1439.4 855.9 1429.9 846 1410.7 842.8 1401.9 841.6 1393.9 842.2 1385.9 846 1377 854 1368.6 882 1350.6 902 1341.8 907.5 1338 914 1331.6 930 1310.1 934.9 1302.1 943 1278.2 951.2 1250.2 955.2 1242.2 958 1238.7ZM62.5 1285.2 70.5 1287.3 74.5 1289.7 78.5 1293.2 81.9 1298.1 86.3 1310.1 87.4 1330.1 90.2 1338 106.1 1362 118.5 1374.5 126.5 1380.9 138.5 1388 150.4 1393.7 170.4 1401.1 178.4 1405.9 183.5 1409.9 191 1417.9 202.4 1439 205.1 1441.8 211.7 1445.8 222.4 1450.9 230.4 1453.7 246.4 1454.3 270.4 1457.2 278.4 1459.2 286.4 1463.5 306.4 1478.6 323.6 1493.7 326.9 1497.7 328.6 1501.7 328.2 1505.7 325.5 1509.7 315.8 1517.7 302.4 1525.7 288.8 1529.7 274.4 1532.4 246.4 1528.5 226.4 1523.8 198.4 1519.9 170.4 1517.3 106.5 1516 74.5 1516.6 58.5 1517.9 58.5 1284.6ZM298.4 1385.9 310.4 1384.9 326.3 1385.4 334.3 1387.1 342.4 1389.9 350.9 1393.9 356.9 1397.9 360.3 1401.9 362.1 1405.9 362 1409.9 358.3 1415.5 350.1 1421.9 338.3 1428 322.3 1432.6 310.4 1434.8 298.4 1435 290.4 1433.3 274.4 1427.5 267.6 1421.9 265.2 1417.9 264.4 1413.9 265 1409.9 266.9 1405.9 270.2 1401.9 280.1 1393.9 287.1 1389.9Z"/>
<path fill="#16ffe1" d="M1045.9 1277.6 1061.9 1275 1081.9 1274.2 1153.9 1277.8 1161.9 1279.2 1177.8 1284.6 1193.8 1283.8 1197.8 1284.4 1209.8 1289.1 1213.8 1289.4 1225.8 1287.9 1229.8 1288.7 1241.8 1296.7 1249.8 1299.7 1261.8 1301.2 1285.8 1306.3 1301.8 1308.1 1313.8 1308.5 1329.8 1312 1337.8 1313 1357.7 1313.7 1369.7 1313.2 1393.7 1310.7 1417.7 1305.9 1429.7 1305.2 1429.7 1508.1 1373.7 1507.5 1329.8 1505.1 1305.8 1504.7 1261.8 1506.2 1213.8 1509.2 1157.9 1509.8 1097.9 1506.5 1089.9 1504.7 1073.9 1498.1 1037.9 1487.1 1024.2 1481.8 1001.9 1470.5 970 1450.7 958 1445.3 942 1441.8 914 1440.5 905 1437.8 890 1429.9 885 1425.9 878 1418.4 870 1406.4 867.1 1397.9 867.3 1393.9 870 1386.7 877.6 1378 882.8 1374 890.1 1370 926 1356.3 937.3 1350 942.8 1346 945.9 1342 952.2 1330.1 962 1315.7 966 1311.4 980.6 1302.1 986 1299.4 998 1295.5 1013.9 1287.1ZM59.5 1310.1 66.5 1314.3 70.1 1318.1 78.3 1338 102.5 1369.8 126.5 1391.7 147.6 1405.9 156.8 1413.9 159.9 1417.9 171.3 1437.8 177.9 1445.8 185.9 1453.8 198.4 1462.4 222.4 1471.9 230.4 1473.7 250.4 1475.8 270.4 1480 278.4 1482.9 288.5 1489.7 296 1497.7 297.4 1501.7 296.8 1505.7 294.4 1509.7 289.6 1513.7 282.4 1517.2 270.4 1519.1 250.4 1517.7 230.4 1513.4 198.4 1508.7 174.4 1507 94.5 1505.8 58.5 1507.8 58.5 1309.6ZM306.4 1401.3 310.4 1400.1 318.3 1399.7 325.7 1401.9 328.6 1405.9 327 1409.9 322.3 1412.4 314.4 1413.7 310.4 1413 304.2 1409.9 302.4 1406.2 305.2 1401.9Z"/>
<path fill="#3cffba" d="M1117.9 1293.9 1145.9 1291 1153.9 1290.9 1161.9 1292 1177.8 1297.4 1193.8 1295.3 1197.8 1295.8 1209.8 1300.8 1213.8 1300.9 1225.8 1298.7 1229.8 1299.3 1241.8 1306.7 1245.8 1307.9 1265.8 1308.9 1281.8 1313.3 1309.8 1314.6 1329.8 1318.9 1349.7 1320.8 1361.7 1321.2 1385.7 1320.3 1397.7 1319 1417.7 1315.6 1429.7 1315.3 1429.7 1498.3 1413.7 1498.9 1373.7 1498.6 1329.8 1496.1 1309.8 1495.7 1289.8 1496.4 1213.8 1501.4 1157.9 1502 1133.9 1500.8 1113.9 1498.4 1097.9 1497.8 1089.9 1495.2 1069.9 1482.2 1051 1473.8 1022.6 1457.8 1004 1441.8 996.4 1433.9 985.2 1417.9 980.9 1409.9 977.7 1401.9 976 1389.9 977.4 1378 984.4 1350 990 1338.5 998 1325.9 1001.6 1322.1 1025.9 1305.6 1033.9 1303.7 1037.9 1303.8 1049.9 1307.6 1053.9 1308 1061.9 1305.9 1085.9 1296.9 1093.9 1295.6ZM62.2 1326.1 72.3 1342 85.4 1358 94.5 1370.6 113.2 1389.9 132.6 1413.9 136.3 1421.9 139.1 1437.8 142.4 1445.8 149.5 1453.8 167 1469.8 173.2 1477.8 174.1 1481.8 170.2 1485.8 158.4 1489.1 150.4 1490.4 122.5 1491.6 90.5 1491 58.5 1496 58.5 1322.8Z"/>
<path fill="#66ff90" d="M1133.9 1305.9 1153.9 1303.3 1161.9 1304.4 1173.8 1308.4 1177.8 1308.8 1193.8 1305.6 1197.8 1306.3 1209.8 1311.2 1213.8 1311.2 1225.8 1308.8 1229.8 1309.3 1241.8 1315.8 1265.8 1316.2 1277.8 1320.6 1297.8 1321.5 1345.7 1328.2 1385.7 1328.5 1397.7 1327.5 1417.7 1324.3 1429.7 1324.3 1429.7 1488 1413.7 1489.2 1373.7 1489.1 1329.8 1486.4 1309.8 1486.1 1217.8 1492.8 1157.9 1493.5 1129.9 1491.7 1113.9 1487.4 1097.9 1488.2 1091.7 1485.8 1087.1 1481.8 1077.9 1470.2 1043.6 1441.8 1028.8 1421.9 1022.9 1409.9 1018.2 1393.9 1017 1382 1018.3 1366 1020.9 1358 1026.6 1350 1041.9 1339.7 1061.9 1329.8 1077.9 1314.6 1081.9 1312 1085.9 1310.8 1101.9 1310.5ZM59 1334 104.6 1393.9 110.6 1405.9 112.4 1413.9 112.5 1417.9 112 1421.9 108.9 1429.9 99.2 1445.8 94.5 1452 75.8 1469.8 64.8 1477.8 58.5 1481.3 58.5 1333.5Z"/>
<path fill="#90ff66" d="M1141.9 1318.1 1149.9 1316.4 1157.9 1316 1177.8 1319.1 1193.8 1315.4 1197.8 1316.2 1209.8 1320.5 1225.8 1319.2 1241.8 1324.4 1257.8 1325 1273.8 1328.8 1301.8 1332.1 1317.8 1332.4 1337.8 1336.2 1345.7 1336.7 1385.7 1337.4 1417.7 1333.4 1429.7 1333.4 1429.7 1473.7 1421.7 1475.9 1397.7 1477.9 1365.7 1477.2 1321.8 1474.4 1305.8 1474.4 1236.2 1481.8 1213.8 1483.2 1185.8 1483.8 1137.9 1483 1129.9 1481.6 1117.9 1476.3 1113.9 1475.2 1101.9 1476.5 1097.9 1476.1 1093.9 1473.4 1085.9 1462.3 1062.4 1437.8 1059 1433.9 1054.3 1425.9 1049.3 1413.9 1046.2 1401.9 1045.4 1385.9 1047.4 1374 1052.4 1362 1057.9 1354 1065.8 1346 1077.9 1338.5 1102.5 1326.1 1109.9 1323.1 1117.9 1321.6 1129.9 1321ZM59.4 1346 77.5 1370 87.8 1385.9 93.4 1397.9 94.6 1405.9 93.1 1413.9 90.5 1419.3 86.5 1424.7 78.5 1431.9 64.9 1441.8 58.5 1449 58.5 1344.9Z"/>
<path fill="#baff3c" d="M1153.9 1329.9 1161.9 1328.5 1177.8 1329 1193.8 1326.1 1197.8 1326.5 1209.8 1330 1225.8 1330.1 1241.8 1333.8 1261.8 1336.2 1277.8 1340 1313.8 1341.4 1345.7 1347.3 1353.7 1348.1 1381.7 1348.8 1393.7 1347.8 1417.7 1344 1429.7 1344.6 1429.7 1416 1417.7 1417 1409.7 1416.3 1397.7 1411.8 1381.7 1408.1 1365.7 1401.8 1349.7 1399 1325.8 1400.1 1297.8 1396.7 1277.8 1395.7 1261.8 1396.5 1245.8 1394.9 1229.8 1395.6 1217.8 1394 1213.8 1394.1 1197.8 1396.9 1177.8 1398.7 1165.9 1398.5 1161.9 1400.1 1160.2 1401.9 1165.9 1404.4 1169.9 1404.9 1181.8 1404.3 1199.3 1409.9 1221.8 1415.2 1233.8 1419.8 1277 1441.8 1283.8 1445.8 1286.9 1449.8 1284.9 1453.8 1280.7 1457.8 1271.6 1461.8 1249.8 1467 1217.8 1470 1181.8 1471.4 1141.9 1471.8 1129.9 1469.8 1113.9 1463.9 1101.9 1462.1 1097.9 1459.6 1085.7 1445.8 1078.7 1433.9 1073.6 1421.9 1072.2 1413.9 1072.4 1401.9 1073.9 1393.4 1079.4 1374 1085.8 1362 1092.7 1354 1097.2 1350 1109.9 1341.4 1117.7 1338 1125.9 1337.5 1133.9 1336ZM60.1 1362 70.4 1378 74.2 1385.9 76.1 1393.9 74.8 1401.9 72.3 1405.9 66.5 1411.1 58.5 1414.5 58.5 1359.8ZM1329.8 1437.2 1337.8 1436.5 1341.8 1437.1 1363.9 1445.8 1362.6 1449.8 1353.2 1453.8 1341.8 1455.7 1331.6 1453.8 1321.6 1449.8 1315.4 1445.8 1318.4 1441.8Z"/>
<path fill="#e4ff13" d="M1193.8 1341.5 1201.8 1341.5 1213.8 1342.7 1229.8 1342.1 1249.8 1347.3 1264.6 1350 1277.8 1354.3 1309.8 1356.5 1315.2 1358 1321.6 1362 1323.6 1366 1322.2 1370 1317.8 1373.1 1309.8 1375.4 1297.8 1375.4 1273.8 1373.2 1257.8 1373.4 1225.8 1370 1181.8 1362 1171.8 1358 1168.5 1354 1169 1350 1173.8 1346.7ZM1405.7 1361.9 1417.7 1359.6 1425.7 1360.4 1429.7 1362 1429.7 1392 1421.7 1392.3 1409.7 1389.9 1399.9 1385.9 1394.6 1382 1391.6 1378 1390.7 1374 1392.3 1370 1397 1366ZM1113.9 1429 1121.9 1427.3 1137.9 1427.4 1149.9 1429 1165.9 1432.5 1170.4 1433.9 1175.9 1437.8 1178 1441.8 1177.5 1445.8 1173.4 1449.8 1157.9 1454.4 1141.9 1455.9 1129.9 1454.2 1117.9 1449.5 1112.3 1445.8 1109.2 1441.8 1107.9 1437.8 1108.4 1433.9 1109.9 1431.6Z"/>
</g>
<use href="#coast" transform="translate(58.5 1098.5)" fill="none" stroke="#000" stroke-width="4.2" stroke-linejoin="round" stroke-linecap="round"/>
</g>
<rect x="58.5" y="1098.5" width="1371.2" height="674.7" fill="none" stroke="#000" stroke-width="3.3"/>
<g shape-rendering="crispEdges">
<rect x="58.50" y="1816.8" width="69.06" height="67.4" fill="#00009b"/>
<rect x="127.06" y="1816.8" width="69.06" height="67.4" fill="#0000d6"/>
<rect x="195.62" y="1816.8" width="69.06" height="67.4" fill="#0000ff"/>
<rect x="264.18" y="1816.8" width="69.06" height="67.4" fill="#0030ff"/>
<rect x="332.74" y="1816.8" width="69.06" height="67.4" fill="#0064ff"/>
<rect x="401.30" y="1816.8" width="69.06" height="67.4" fill="#0098ff"/>
<rect x="469.86" y="1816.8" width="69.06" height="67.4" fill="#00ccff"/>
<rect x="538.42" y="1816.8" width="69.06" height="67.4" fill="#16ffe1"/>
<rect x="606.98" y="1816.8" width="69.06" height="67.4" fill="#3cffba"/>
<rect x="675.54" y="1816.8" width="69.06" height="67.4" fill="#66ff90"/>
<rect x="744.10" y="1816.8" width="69.06" height="67.4" fill="#90ff66"/>
<rect x="812.66" y="1816.8" width="69.06" height="67.4" fill="#baff3c"/>
<rect x="881.22" y="1816.8" width="69.06" height="67.4" fill="#e4ff13"/>
<rect x="949.78" y="1816.8" width="69.06" height="67.4" fill="#ffde00"/>
<rect x="1018.34" y="1816.8" width="69.06" height="67.4" fill="#ffae00"/>
<rect x="1086.90" y="1816.8" width="69.06" height="67.4" fill="#ff7e00"/>
<rect x="1155.46" y="1816.8" width="69.06" height="67.4" fill="#ff4e00"/>
<rect x="1224.02" y="1816.8" width="69.06" height="67.4" fill="#ff1e00"/>
<rect x="1292.58" y="1816.8" width="69.06" height="67.4" fill="#d60000"/>
<rect x="1361.14" y="1816.8" width="68.56" height="67.4" fill="#9b0000"/>
</g>
<rect x="58.5" y="1816.8" width="1371.2" height="67.4" fill="none" stroke="#000" stroke-width="3.3"/>
<line x1="58.5" y1="1884.2" x2="58.5" y2="1900.5" stroke="#000" stroke-width="3.3"/>
<text x="58.5" y="1946.7" font-size="44.6" text-anchor="middle" textLength="26.5" lengthAdjust="spacingAndGlyphs">0</text>
<line x1="264.2" y1="1884.2" x2="264.2" y2="1900.5" stroke="#000" stroke-width="3.3"/>
<text x="264.2" y="1946.7" font-size="44.6" text-anchor="middle" textLength="53.0" lengthAdjust="spacingAndGlyphs">15</text>
<line x1="469.9" y1="1884.2" x2="469.9" y2="1900.5" stroke="#000" stroke-width="3.3"/>
<text x="469.9" y="1946.7" font-size="44.6" text-anchor="middle" textLength="53.0" lengthAdjust="spacingAndGlyphs">30</text>
<line x1="675.5" y1="1884.2" x2="675.5" y2="1900.5" stroke="#000" stroke-width="3.3"/>
<text x="675.5" y="1946.7" font-size="44.6" text-anchor="middle" textLength="53.0" lengthAdjust="spacingAndGlyphs">45</text>
<line x1="881.2" y1="1884.2" x2="881.2" y2="1900.5" stroke="#000" stroke-width="3.3"/>
<text x="881.2" y="1946.7" font-size="44.6" text-anchor="middle" textLength="53.0" lengthAdjust="spacingAndGlyphs">60</text>
<line x1="1086.9" y1="1884.2" x2="1086.9" y2="1900.5" stroke="#000" stroke-width="3.3"/>
<text x="1086.9" y="1946.7" font-size="44.6" text-anchor="middle" textLength="53.0" lengthAdjust="spacingAndGlyphs">75</text>
<line x1="1292.6" y1="1884.2" x2="1292.6" y2="1900.5" stroke="#000" stroke-width="3.3"/>
<text x="1292.6" y="1946.7" font-size="44.6" text-anchor="middle" textLength="53.0" lengthAdjust="spacingAndGlyphs">90</text>
<text x="132.0" y="1073.3" font-size="51.5" textLength="1219.5" lengthAdjust="spacingAndGlyphs" xml:space="preserve">Ionosphere  (h=450.0 km), 2026-03-21 06:00 UT</text>
<g clip-path="url(#c2)">
<g shape-rendering="crispEdges">
<rect x="57.5" y="2082.5" width="1373.2" height="676.7" fill="#0000ad"/>
<path fill="#0000ff" d="M1121.9 2086.2 1125.8 2083.5 1429.7 2083.5 1429.7 2700.1 1417.7 2704.4 1397.7 2708.4 1369.7 2716.5 1345.7 2726.3 1339 2730.3 1333.8 2735.5 1329.8 2737.9 1317.8 2739.2 1313.8 2740.3 1309.8 2742.5 1294.2 2758.2 275.4 2758.2 282.4 2751.5 290.4 2747.9 298.4 2747.8 310.4 2751.2 322.3 2750.5 342.3 2746.2 370.3 2737.7 414.3 2719.4 478.3 2686.5 490.2 2681.9 502.2 2678.9 510.2 2678 546.2 2681.6 562.2 2682 598.2 2680 626.2 2677.3 642.2 2674.8 666.1 2674 670.1 2674.6 678.4 2682.3 686.1 2686.9 690.1 2687.7 694.1 2687.4 698.1 2685.6 700.8 2682.3 702.2 2678.4 702.2 2674.4 699.5 2666.4 696.7 2662.4 694.1 2660.4 682.1 2655.4 678.1 2652.2 672.9 2646.4 667.5 2642.4 638.4 2634.4 610.2 2629 574.2 2626.5 550.2 2626.4 542.2 2627.1 518.2 2631.3 498.2 2637.4 470.3 2643.1 438.3 2646.6 410.3 2645.6 330.3 2637.5 298.4 2638.1 270.4 2640.1 210.4 2654 162.4 2667.1 58.5 2690.6 58.5 2222.2 60.7 2227.2 64.8 2231.2 70.5 2233.9 74.5 2234.7 98.5 2233.3 122.5 2234.6 150.8 2231.2 169.9 2227.2 182.1 2223.2 188 2219.2 190.1 2215.2 189.4 2211.3 186.3 2207.3 181 2203.3 174.4 2200.1 162.4 2197.3 142.5 2195.5 122.5 2195.1 78.5 2196.9 66.5 2199.9 61.5 2203.3 58.5 2207.9 58.5 2087.8 70.5 2089.3 102.5 2089.1 122.5 2090.5 142.5 2093.9 186.4 2102.9 222.4 2114.7 258.4 2128.2 306.4 2148.1 330.3 2155.1 346.3 2157.2 354.3 2159.6 378.3 2170.3 386.3 2174.7 392.5 2179.3 399.4 2187.3 403.5 2195.3 405.5 2203.3 405.1 2211.3 402.3 2227.2 402.2 2235.2 404.6 2243.2 411.2 2251.2 416.9 2255.2 422.3 2257.7 441.4 2263.2 454.3 2265.2 478.3 2266 526.2 2261.9 578.2 2262.6 614.2 2261.8 638.2 2260.3 666.1 2257.6 718.1 2250.4 738.1 2248.7 822.1 2246.3 846 2244.4 885.7 2239.2 942 2229.7 974 2221.8 991.7 2215.2 999.3 2211.3 1011.4 2203.3 1015.6 2199.3 1018.1 2195.3 1019.3 2191.3 1019 2187.3 1011.3 2171.3 1010.2 2167.3 1010.5 2163.3 1020.5 2151.4 1022.2 2147.4 1023.3 2139.4 1021.7 2131.4 1017.9 2124 1014.5 2119.4 1013.1 2115.4 1018.6 2111.4 1026.4 2107.5 1037.9 2102.8 1065.9 2096.1 1089.9 2091.9 1109.9 2090.8 1117.9 2088.2ZM982 2114.8 986 2113.7 994 2114.5 996.6 2115.4 996.4 2119.4 988.6 2127.4 986 2129.3 982 2129.5 978 2127.4 976.2 2123.4 976.8 2119.4Z"/>
<path fill="#0054ff" d="M1301.8 2119.1 1321.8 2116.9 1373.7 2115.6 1429.7 2119.6 1429.7 2165 1389.7 2171.8 1365.7 2178.2 1345.7 2181.7 1329.8 2183.4 1313.8 2183.1 1277.8 2177.3 1257.8 2169.8 1245.8 2166.9 1238.8 2163.3 1227.4 2155.4 1223.1 2151.4 1220.5 2147.4 1219.6 2143.4 1220.5 2139.4 1223.8 2135.4 1229.8 2132.4 1257.8 2126.4ZM62.5 2121.6 90.5 2123.2 106.5 2127.1 114.6 2131.4 118.8 2135.4 120.5 2139.4 120 2143.4 116.9 2147.4 110.8 2151.4 99.5 2155.4 86.5 2157.5 58.5 2160.3 58.5 2121.3ZM1309.8 2214.8 1321.8 2212.2 1353.7 2213 1397.7 2220.8 1413.7 2221.6 1421.7 2224.2 1425.7 2226.5 1429.7 2230.1 1429.7 2659 1385.7 2669.7 1284.6 2698.3 1265.8 2704.3 1237.8 2711 1201.8 2717.3 1177.8 2720 1117.9 2722 1081.9 2720.2 1049.9 2716.7 1017.9 2711.4 982 2703.4 966 2695.5 954 2686.8 942.9 2674.4 936.3 2662.4 933 2650.4 933.1 2642.4 935.6 2634.4 938.2 2630.4 942 2626.6 950 2621.8 970 2614.1 974 2611.2 978 2606.3 984.7 2602.5 1001.9 2596.8 1017.9 2593.1 1049.9 2591.3 1077.9 2592.8 1097.9 2594.6 1141.9 2597 1217.8 2604.2 1261.8 2607.1 1271.5 2606.5 1277.8 2603.8 1286.2 2590.5 1289.8 2586.8 1293.8 2584.1 1297.8 2582.9 1301.8 2582.7 1305.8 2583.9 1308.9 2586.5 1313.8 2593.6 1317.8 2595.5 1323.1 2594.5 1326.8 2590.5 1327.6 2586.5 1327 2582.5 1322.1 2574.6 1301.8 2554.6 1288.6 2546.6 1277.8 2542.3 1259.4 2538.6 1245.8 2537.2 1217.8 2536.6 1157.9 2539.2 1121.9 2542.3 1093.9 2548.3 1041.9 2563.4 1021.9 2567.3 1013.9 2568 1001.9 2567.5 974 2563.2 954 2564.5 942 2566.3 930.4 2570.6 915.9 2578.5 911.4 2582.5 898 2597.7 890 2603.7 878 2608.3 862 2611.6 834 2612.6 754.1 2608.3 686.1 2608.2 638.2 2603.7 574.2 2595.9 526.2 2594.6 506.2 2597.7 482.3 2604.7 458.3 2610.1 426.3 2614.4 390.3 2615.3 322.3 2613.6 290.4 2613.7 262.4 2615.4 218.4 2623 150.4 2638.1 58.5 2655.4 58.5 2253.4 62.5 2255.9 66.5 2257.4 74.5 2258.5 94.5 2257.4 122.5 2258.2 162.4 2257.1 198.4 2259 206.4 2260.1 218.4 2263 230.4 2267.8 254.4 2281.7 278.4 2302 290.4 2314.7 306.4 2328.5 314.4 2333.2 322.3 2334.4 326.3 2333.8 334.3 2330.3 339.1 2327 354.3 2313 370.3 2302.3 382.3 2297.3 398.3 2294.2 410.3 2293.4 450.3 2293.1 490.2 2295.6 546.2 2294.2 594.2 2295.8 630.2 2295.2 678.1 2292.7 706.1 2289.3 734.1 2283.8 762.1 2279.3 854 2272.8 946 2254.9 982 2250.6 1005.9 2249.3 1025.9 2246.5 1049.9 2244.3 1089.9 2244.9 1113.9 2247.4 1185.8 2257.8 1205.8 2258 1222.7 2255.2 1241.8 2248.6 1249.8 2244.8 1265.8 2235.1 1293.8 2220.1ZM850.9 2374.9 846 2378.1 842 2382.4 839.8 2386.9 838.9 2390.9 838.9 2394.9 840.5 2402.9 846 2414.5 850 2419.1 854 2421 866 2423.3 874 2422.8 882 2419.2 887.4 2410.9 890.9 2398.9 891 2390.9 890.2 2386.9 886 2379.4 882 2375.8 878 2373.6 870 2371.5 862 2371.6Z"/>
<path fill="#00a8ff" d="M1317.8 2238.8 1337.8 2237.6 1365.7 2240 1389.7 2244.9 1417.7 2248.7 1425.7 2252 1429.7 2255 1429.7 2541.6 1393.7 2542.9 1373.7 2541 1361.7 2537.9 1349.7 2533.6 1309.8 2515.8 1293.8 2512.5 1277.8 2511.2 1133.9 2513.7 1109.9 2515.7 1061.9 2523.6 1009.9 2528.5 986 2527.5 930 2520.7 898 2519.8 870 2523.3 786.1 2539.9 758.1 2548.6 729.6 2562.6 706.1 2572.2 697.6 2574.6 678.1 2577.4 666.1 2578.2 646.2 2578 618.2 2575.4 526.2 2558.9 510.2 2557.5 498.2 2558.6 486.3 2561.1 422.3 2581.6 406.3 2585.6 390.3 2588.2 334.3 2590.5 266.4 2589.8 194.4 2593 170.4 2591.7 158.4 2589.5 150.4 2587.2 134.5 2580 93.8 2554.6 84.2 2550.6 58.5 2543.4 58.5 2272.2 66.5 2275.3 74.5 2276.3 94.5 2275.2 122.5 2275.4 154.4 2273.5 182.4 2273.9 198.4 2275.7 214.4 2279.4 230.8 2287.1 244.7 2295.1 266.4 2314.2 277 2327 299 2351 306.4 2356.4 310.4 2358.1 314.4 2358.8 326.3 2358.1 338.3 2354.6 346.3 2349.2 362.3 2334.3 370.3 2329.2 386.3 2322.5 402.3 2319.8 430.3 2319.2 454.3 2319.8 510.2 2324.4 566.2 2327.3 654.2 2329.9 670.1 2331.5 682.1 2333.8 694.1 2337.7 706.1 2342.9 713.6 2347 719 2351 722.9 2355 726.1 2359.7 733.6 2378.9 736.3 2382.9 740.6 2386.9 746.1 2389.7 766.1 2392.5 774.1 2395.9 782.1 2402.3 794.1 2416.2 797.3 2418.9 810.1 2422.1 814.1 2425.3 838 2451.6 846 2458.7 858 2466 866 2468.5 870 2468.8 874 2468.4 882 2465.4 890 2459.2 898 2449.9 907.6 2434.8 923.3 2398.9 924.6 2390.9 924.3 2382.9 922 2367.6 919.6 2359 910 2335.8 906 2329.7 897.2 2319 895 2315.1 895 2311.1 897.7 2307.1 902.6 2303.1 915.9 2295.1 958 2277.9 970 2274.1 1005.9 2267.9 1041.9 2263.6 1069.9 2263 1097.9 2265.1 1129.9 2270.3 1181.8 2280.8 1197.8 2282.3 1213.8 2281.5 1229.8 2277.9 1245.8 2271.5 1257.8 2264.9 1277.8 2251.2 1281.8 2249.5 1305.8 2240.7ZM826.1 2318.2 834 2317.6 843.3 2319 838 2320.3 832.1 2323 826.1 2323.6 822.2 2323 823 2319ZM1109.9 2622.4 1133.9 2622.1 1157.9 2623.2 1189.8 2627 1225.8 2633.4 1245.8 2639.6 1252.4 2642.4 1258.2 2646.4 1261.9 2650.4 1264 2654.4 1264.6 2658.4 1263.6 2662.4 1260.8 2666.4 1256.3 2670.4 1243.1 2678.4 1231.8 2682.3 1213.8 2687.2 1177.8 2693.6 1137.9 2696.6 1121.9 2696.9 1089.9 2694.1 1065.9 2689.8 1051.7 2686.3 1032.4 2678.4 1025.1 2674.4 1015.8 2666.4 1012.9 2662.4 1011.3 2658.4 1010.9 2654.4 1012.1 2650.4 1015.1 2646.4 1026.3 2638.4 1037.9 2633.2 1053.9 2628.2 1065.9 2625.5Z"/>
<path fill="#16ffe1" d="M1333.8 2258.9 1349.7 2258.9 1361.7 2260.5 1397.7 2268.8 1417.7 2271.3 1429.7 2276.7 1429.7 2514.9 1393.7 2512.7 1373.7 2509.5 1341.8 2500 1321.8 2491.6 1305.8 2488 1293.8 2486.6 1277.8 2486.4 1217.8 2490.7 1185.8 2489.6 1161.9 2487.6 1113.9 2481.4 1081.9 2480.6 1053.9 2483.5 1033.9 2487.5 1005.9 2491.5 982 2492.8 974 2491.6 964.3 2486.7 954.9 2478.7 950 2471.6 947.9 2466.8 946.6 2458.8 949.2 2426.8 948.8 2394.9 945 2351 946.3 2335 951.6 2315.1 956 2307.1 962 2301.3 978 2291.9 994 2287.3 1025.9 2282.3 1049.9 2280.4 1073.9 2280.5 1093.9 2282 1117.9 2285.6 1145.9 2291.1 1185.8 2300.4 1193.8 2301.1 1201.8 2300.7 1221.8 2298 1245.8 2291.6 1257.1 2287.1 1297.8 2267.3 1317.8 2261.1ZM61.5 2291.1 70.5 2293.4 78.5 2293.8 170.4 2288.3 190.4 2289.8 206.4 2293.8 218.4 2298.7 226.4 2303.1 246.4 2318.9 260.8 2335 270.4 2344.5 282.4 2358.9 290.4 2365.8 294.4 2368.4 302.4 2372 318.3 2376.4 330.3 2376.1 346.3 2371.4 354.3 2367.5 374.3 2355 386.3 2349.9 398.3 2346.9 414.3 2345.3 434.3 2345.9 458.3 2349.1 489.3 2355 506 2359 514.2 2361.9 519.2 2367 520.8 2370.9 521.2 2374.9 518.3 2386.9 518.7 2390.9 522.4 2394.9 530.2 2397.3 538.2 2396.6 566.2 2388.2 597.4 2374.9 606.2 2372.2 618.2 2370.4 634.2 2369.6 642.2 2370 654.2 2372.1 666.1 2375.8 672 2378.9 678.1 2383.5 689.9 2394.9 702.1 2411.8 706.1 2416.2 710.1 2419.1 714.1 2420.7 726.1 2421.6 730.1 2422.8 749.1 2430.8 755.6 2434.8 768.3 2446.8 774.1 2454.4 775.4 2458.8 775 2466.8 773.2 2470.8 770.1 2474.7 765.1 2478.7 758.1 2482.8 742.1 2488.3 722.1 2491.2 710.1 2490.9 698.1 2488.8 690.1 2486.1 674.1 2477.2 662.1 2472.4 650.2 2469.5 642.2 2470.2 631.8 2474.7 626.2 2478.5 622.2 2482.4 613.3 2498.7 605.3 2506.7 594.2 2512.4 582.2 2515.2 570.2 2515.3 550.2 2512.1 522.2 2503.2 504.6 2498.7 494.2 2497.7 482.3 2498.6 462.3 2504.4 450.3 2510 432.9 2522.7 413.4 2538.6 401.3 2546.6 392.5 2550.6 382.3 2554 362.3 2557.8 342.3 2559.5 314.4 2559.4 218.4 2554 170.4 2547.9 134.5 2540.8 58.5 2519.7 58.5 2289.7ZM1117.9 2652.9 1129.9 2650.6 1137.9 2651.7 1144.1 2654.4 1145.9 2656.3 1147.4 2658.4 1147.2 2662.4 1143.5 2666.4 1133.9 2669.2 1125.9 2669.1 1117.9 2667.2 1115.7 2666.4 1110.4 2662.4 1110 2658.4 1114.1 2654.4Z"/>
<path fill="#5aff9d" d="M1329.8 2278.5 1341.8 2277.1 1365.7 2279.1 1389.7 2284.2 1413.7 2287.5 1421.7 2289.6 1429.7 2293.2 1429.7 2493.5 1402.5 2486.7 1390.5 2482.7 1382.1 2478.7 1365.7 2468.7 1349.7 2460.3 1341.8 2457.5 1333.8 2456.2 1317.8 2456.2 1277.8 2466 1265.8 2467.7 1245.8 2469.1 1209.8 2469 1177.8 2465.6 1169.9 2464.1 1145.9 2457.5 1125.9 2448.8 1117.9 2446.1 1089.9 2440.2 1073.1 2434.8 1057.9 2431.8 1041.9 2427.2 1021.9 2423.5 1005.9 2418.4 998 2414.2 989.3 2406.9 982 2396.6 977.7 2386.9 974.9 2374.9 974.2 2351 971.6 2335 971.4 2323 973.7 2315.1 977.4 2311.1 989.2 2307.1 1005.9 2302.5 1033.9 2298 1057.9 2296.8 1077.9 2296.9 1109.9 2300.5 1145.9 2306.9 1181.8 2314.7 1193.8 2315.9 1201.8 2315.7 1233.8 2311.2 1257.8 2305.1 1269.8 2300.8 1309.8 2284ZM146.4 2306.5 174.4 2304.6 182.4 2305 195 2307.1 210.4 2312 222.4 2318.9 233.9 2327 257.4 2351 280.8 2382.9 290.4 2397.7 300.8 2410.9 322.3 2444 324.9 2446.8 325.9 2450.8 324.2 2454.8 312.6 2466.8 302.4 2474.7 294.4 2479.9 270.4 2492.7 234.4 2507.6 206.4 2514.3 170.4 2518.6 158.4 2519 146.4 2518.4 106.5 2512.2 74.5 2504.6 58.5 2500.1 58.5 2307.6 62.5 2309.9 70.5 2312.8 82.5 2314.2 102.5 2312.8ZM402.3 2374.5 418.3 2373.1 430.3 2374.8 442.3 2379.8 447 2382.9 454.3 2389.8 460 2398.9 464.1 2410.9 467.7 2434.8 466.9 2446.8 465.7 2450.8 462.3 2457.3 454.1 2466.8 442.3 2475.9 430.3 2482.1 414.3 2488.1 402.3 2490.9 390.3 2491.6 374.3 2489.2 362.3 2485.1 350.3 2477.4 343 2470.8 336 2462.8 330.8 2454.8 330.3 2452 328.7 2450.8 330.3 2450.1 331.2 2446.8 336.3 2438.8 350.3 2419.2 356.3 2406.9 365.7 2394.9 374.3 2387.4 382.3 2382.1 390.3 2378.1Z"/>
<path fill="#9dff5a" d="M1357.7 2302.9 1369.7 2302.7 1409.7 2306.1 1421.7 2309.2 1425.8 2311.1 1429.7 2314.2 1429.7 2470.3 1404.7 2458.8 1397.6 2454.8 1393.4 2450.8 1388.5 2442.8 1383.7 2430.8 1380.9 2406.9 1377.7 2395.3 1373.7 2390.7 1365.7 2387.8 1361.7 2387.6 1357.7 2388.5 1354.1 2390.9 1352.9 2394.9 1353 2398.9 1354.6 2410.9 1353 2414.9 1347.4 2418.9 1333.8 2420.2 1301.8 2437.8 1273.8 2449.6 1265.8 2452.2 1245.8 2454.6 1213.8 2455 1181.8 2450.7 1158.7 2442.8 1149.9 2438.2 1133.9 2424.6 1129.9 2423.9 1121.9 2425.4 1113.9 2425.8 1077.9 2421.3 1045.9 2409.3 1028.9 2398.9 1014.7 2386.9 1005.9 2374.9 1001.9 2363 1001.3 2351 1002 2343 1004.5 2335 1007 2331 1011.2 2327 1017.9 2323 1028.9 2319 1037.9 2317.1 1069.9 2313.8 1089.9 2314 1101.9 2315.3 1137.9 2321.4 1169.9 2327.7 1189.8 2330.3 1197.8 2330.5 1213.8 2328.6 1261.8 2325.2 1281.8 2322.3 1297.8 2318.7 1336.5 2307.1ZM174.4 2330.4 182.4 2329.7 194.4 2330.6 206.4 2334.1 214.4 2338 222.4 2343.3 231.3 2351 238.9 2359 246.4 2368.8 254.4 2380.9 259.9 2390.9 266.4 2406.9 269.8 2418.9 269.7 2426.8 268.3 2434.8 265.4 2442.8 260.4 2450.8 252.7 2458.8 242.4 2466.6 222.4 2476.9 210.4 2481.6 194 2486.7 174.4 2491.8 159.2 2494.7 138.5 2496.2 114.5 2494.6 79.4 2486.7 58.5 2480 58.5 2363.9 59.7 2367 62.5 2370 70.5 2373.4 102.5 2380.5 110.5 2381.7 118.5 2381.7 125.1 2378.9 130.5 2373.9 138 2363 146.2 2347 150.4 2341.9 159.9 2335 166.4 2332.4ZM402.3 2417.5 406.3 2416.2 410.3 2416.4 414.8 2418.9 416.4 2422.8 415.9 2426.8 413.1 2430.8 410.3 2432.4 406.3 2432.7 401.8 2430.8 399 2426.8 398.3 2422.8 400.6 2418.9Z"/>
<path fill="#e4ff13" d="M1069.9 2334.5 1081.9 2333.3 1101.9 2334 1131.2 2339 1153.9 2343.9 1161.9 2344.7 1177.8 2344.1 1193.8 2345.3 1213.8 2341.1 1237.8 2340.7 1265.8 2344.6 1273.8 2347.1 1288.9 2355 1294.7 2359 1298.7 2363 1303.1 2370.9 1304.9 2378.9 1304.9 2386.9 1303.4 2394.9 1297.9 2410.9 1293.8 2416.9 1289.8 2419.7 1281.8 2422.6 1277.8 2425.1 1267.1 2434.8 1261.8 2437.9 1245.8 2440.9 1225.8 2442.3 1209.8 2441.3 1189.8 2437.5 1177.8 2432.6 1165.9 2423.8 1153.9 2419.2 1145.9 2412.9 1141.9 2410.8 1133.9 2409.1 1121.9 2411.2 1109.9 2408.4 1081.9 2397.8 1073.9 2393.4 1057.9 2382.4 1050.3 2374.9 1044.8 2367 1041.8 2359 1042.1 2351 1044.1 2347 1049.9 2341.8 1055.5 2339ZM202.4 2398.6 208 2398.9 210.4 2399.9 214.4 2403.3 218 2410.9 218.4 2414.9 217.2 2418.9 214.4 2422.1 210.4 2423.5 198.4 2425 194.4 2424.6 191.1 2422.8 190.4 2421.7 189.7 2418.9 190.1 2414.9 194.4 2405.2 198.4 2400.8ZM110.5 2426.7 122.5 2427.3 142.5 2430 150.4 2431.7 158.1 2434.8 162.4 2438.8 164.6 2442.8 165 2446.8 162.4 2454.8 155.8 2462.8 149.2 2466.8 134.5 2471.2 126.5 2472.2 118.5 2472 106.5 2469.6 88.9 2462.8 76.8 2454.8 69.8 2446.8 68.2 2442.8 68.3 2438.8 70.9 2434.8 74.5 2432.5 78.5 2430.7 86.5 2429Z"/>
<path fill="#ffbd00" d="M1217.8 2350.7 1237.8 2351.6 1253.8 2354.2 1265.8 2360.2 1274.5 2367 1278.1 2370.9 1280.3 2374.9 1281.9 2382.9 1281.8 2387.2 1280 2394.9 1275.6 2402.9 1272 2406.9 1257.8 2419.2 1241.8 2425.8 1229.8 2427.8 1213.8 2426.9 1197.1 2422.8 1189.8 2420.2 1185.8 2417.5 1161.4 2394.9 1154.9 2386.9 1153.2 2382.9 1153 2378.9 1154.8 2374.9 1163.5 2367 1169.8 2363 1181.8 2357.6 1185.8 2356.7 1197.8 2355.8Z"/>
<path fill="#ff6f00" d="M1209.8 2366.9 1217.8 2364.5 1225.8 2363.7 1237.8 2364.6 1246.2 2367 1251.8 2370.9 1255.3 2374.9 1257.4 2378.9 1258.3 2386.9 1255.5 2394.9 1252.6 2398.9 1245.8 2405 1241.8 2407.4 1233.8 2409.6 1221.8 2409 1214.4 2406.9 1205.8 2402.9 1200 2398.9 1195.9 2394.9 1193.2 2390.9 1191.6 2386.9 1191.3 2382.9 1192.5 2378.9 1195.6 2374.9 1201.3 2370.9Z"/>
</g>
<use href="#coast" transform="translate(58.5 2083.5)" fill="none" stroke="#000" stroke-width="4.2" stroke-linejoin="round" stroke-linecap="round"/>
</g>
<rect x="58.5" y="2083.5" width="1371.2" height="674.7" fill="none" stroke="#000" stroke-width="3.3"/>
<g shape-rendering="crispEdges">
<rect x="58.50" y="2801.8" width="114.77" height="67.4" fill="#0000ad"/>
<rect x="172.77" y="2801.8" width="114.77" height="67.4" fill="#0000ff"/>
<rect x="287.03" y="2801.8" width="114.77" height="67.4" fill="#0054ff"/>
<rect x="401.30" y="2801.8" width="114.77" height="67.4" fill="#00a8ff"/>
<rect x="515.57" y="2801.8" width="114.77" height="67.4" fill="#16ffe1"/>
<rect x="629.83" y="2801.8" width="114.77" height="67.4" fill="#5aff9d"/>
<rect x="744.10" y="2801.8" width="114.77" height="67.4" fill="#9dff5a"/>
<rect x="858.37" y="2801.8" width="114.77" height="67.4" fill="#e4ff13"/>
<rect x="972.63" y="2801.8" width="114.77" height="67.4" fill="#ffbd00"/>
<rect x="1086.90" y="2801.8" width="114.77" height="67.4" fill="#ff6f00"/>
<rect x="1201.17" y="2801.8" width="114.77" height="67.4" fill="#ff1e00"/>
<rect x="1315.43" y="2801.8" width="114.27" height="67.4" fill="#ad0000"/>
</g>
<rect x="58.5" y="2801.8" width="1371.2" height="67.4" fill="none" stroke="#000" stroke-width="3.3"/>
<line x1="58.5" y1="2869.2" x2="58.5" y2="2885.5" stroke="#000" stroke-width="3.3"/>
<text x="58.5" y="2931.7" font-size="44.6" text-anchor="middle" textLength="26.5" lengthAdjust="spacingAndGlyphs">0</text>
<line x1="287.0" y1="2869.2" x2="287.0" y2="2885.5" stroke="#000" stroke-width="3.3"/>
<text x="287.0" y="2931.7" font-size="44.6" text-anchor="middle" textLength="26.5" lengthAdjust="spacingAndGlyphs">5</text>
<line x1="515.6" y1="2869.2" x2="515.6" y2="2885.5" stroke="#000" stroke-width="3.3"/>
<text x="515.6" y="2931.7" font-size="44.6" text-anchor="middle" textLength="53.0" lengthAdjust="spacingAndGlyphs">10</text>
<line x1="744.1" y1="2869.2" x2="744.1" y2="2885.5" stroke="#000" stroke-width="3.3"/>
<text x="744.1" y="2931.7" font-size="44.6" text-anchor="middle" textLength="53.0" lengthAdjust="spacingAndGlyphs">15</text>
<line x1="972.6" y1="2869.2" x2="972.6" y2="2885.5" stroke="#000" stroke-width="3.3"/>
<text x="972.6" y="2931.7" font-size="44.6" text-anchor="middle" textLength="53.0" lengthAdjust="spacingAndGlyphs">20</text>
<line x1="1201.2" y1="2869.2" x2="1201.2" y2="2885.5" stroke="#000" stroke-width="3.3"/>
<text x="1201.2" y="2931.7" font-size="44.6" text-anchor="middle" textLength="53.0" lengthAdjust="spacingAndGlyphs">25</text>
<line x1="1429.7" y1="2869.2" x2="1429.7" y2="2885.5" stroke="#000" stroke-width="3.3"/>
<text x="1429.7" y="2931.7" font-size="44.6" text-anchor="middle" textLength="53.0" lengthAdjust="spacingAndGlyphs">30</text>
<text x="87.0" y="2058.3" font-size="51.5" textLength="1313.0" lengthAdjust="spacingAndGlyphs" xml:space="preserve">Plasmasphere (h=1500.0 km), 2026-03-21 06:00 UT</text>
</svg></body></html>
